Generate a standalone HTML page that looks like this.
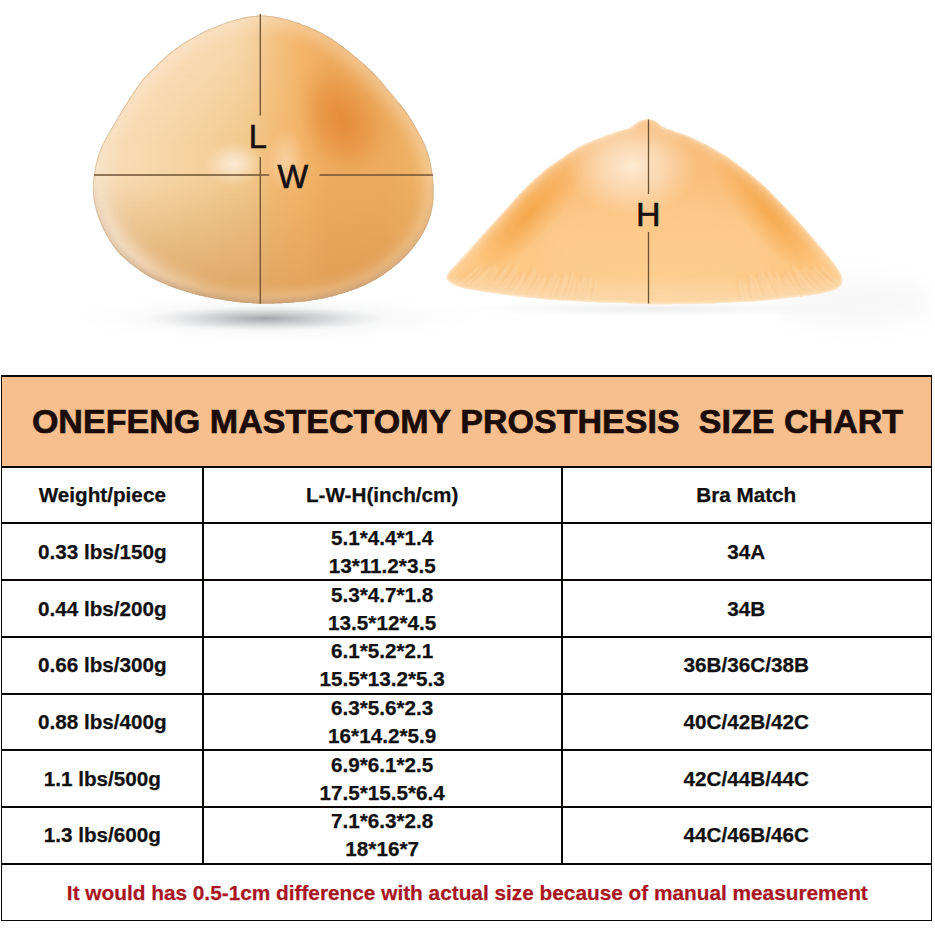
<!DOCTYPE html>
<html><head><meta charset="utf-8"><style>
html,body{margin:0;padding:0;background:#fff;width:935px;height:935px;overflow:hidden;}
body{position:relative;font-family:"Liberation Sans",sans-serif;}
.h{position:absolute;background:#0a0606;height:2px;}
.v{position:absolute;background:#0a0606;width:2px;}
.t{position:absolute;text-align:center;font-weight:bold;font-size:20.7px;line-height:28px;color:#111;white-space:pre;-webkit-text-stroke:0.25px #111;}
#photo{position:absolute;left:0;top:0;}
</style></head><body>
<svg id="photo" width="935" height="375" viewBox="0 0 935 375">
<defs>
<filter id="b07" x="-5%" y="-5%" width="110%" height="110%"><feGaussianBlur stdDeviation="0.7"/></filter>
<filter id="b05" x="-10%" y="-10%" width="120%" height="120%"><feGaussianBlur stdDeviation="0.5"/></filter>
<filter id="b1" x="-10%" y="-10%" width="120%" height="120%"><feGaussianBlur stdDeviation="1"/></filter>
<filter id="b2" x="-20%" y="-20%" width="140%" height="140%"><feGaussianBlur stdDeviation="2"/></filter>
<filter id="b4" x="-20%" y="-20%" width="140%" height="140%"><feGaussianBlur stdDeviation="4"/></filter>
<filter id="b8" x="-50%" y="-50%" width="200%" height="200%"><feGaussianBlur stdDeviation="8"/></filter>
<filter id="b14" x="-50%" y="-50%" width="200%" height="200%"><feGaussianBlur stdDeviation="14"/></filter>
<clipPath id="cl"><path d="M260.5,15.5 C261.8,15.5 263.0,15.5 264.3,15.6 C265.5,15.6 266.7,15.7 268.0,15.9 C269.2,16.0 270.5,16.2 271.7,16.3 C273.0,16.5 274.2,16.7 275.4,16.9 C276.7,17.1 277.9,17.4 279.2,17.6 C280.4,17.9 281.6,18.1 282.8,18.4 C284.1,18.7 285.3,19.0 286.5,19.3 C287.7,19.6 288.9,20.0 290.1,20.3 C291.3,20.7 292.5,21.0 293.7,21.4 C294.9,21.8 296.1,22.2 297.3,22.6 C298.5,23.0 299.7,23.4 300.9,23.9 C302.0,24.3 303.2,24.8 304.4,25.2 C305.6,25.7 306.7,26.2 307.9,26.6 C309.1,27.1 310.2,27.6 311.4,28.1 C312.5,28.6 313.7,29.1 314.8,29.6 C316.0,30.1 317.1,30.7 318.2,31.2 C319.4,31.7 320.5,32.3 321.6,32.9 C322.7,33.5 323.8,34.1 324.9,34.7 C326.0,35.3 327.1,35.9 328.2,36.6 C329.2,37.3 330.3,37.9 331.4,38.6 C332.4,39.3 333.5,40.0 334.5,40.7 C335.5,41.4 336.6,42.1 337.6,42.8 C338.6,43.6 339.6,44.3 340.6,45.1 C341.6,45.8 342.7,46.6 343.7,47.3 C344.7,48.1 345.6,48.9 346.6,49.7 C347.6,50.4 348.6,51.2 349.6,52.0 C350.6,52.8 351.6,53.6 352.5,54.4 C353.5,55.2 354.5,56.0 355.4,56.8 C356.4,57.6 357.4,58.4 358.3,59.2 C359.3,60.0 360.3,60.8 361.2,61.7 C362.2,62.5 363.1,63.3 364.0,64.1 C365.0,65.0 365.9,65.8 366.9,66.7 C367.8,67.5 368.7,68.3 369.6,69.2 C370.5,70.1 371.5,70.9 372.3,71.8 C373.2,72.7 374.1,73.6 375.0,74.5 C375.9,75.4 376.7,76.3 377.5,77.3 C378.4,78.2 379.2,79.2 380.0,80.1 C380.9,81.1 381.7,82.0 382.5,83.0 C383.3,84.0 384.1,84.9 384.9,85.9 C385.7,86.9 386.5,87.8 387.3,88.8 C388.1,89.8 388.9,90.8 389.7,91.7 C390.5,92.7 391.3,93.7 392.1,94.6 C392.9,95.6 393.7,96.6 394.5,97.5 C395.3,98.5 396.2,99.4 397.0,100.4 C397.8,101.3 398.6,102.3 399.4,103.2 C400.2,104.2 401.1,105.2 401.8,106.1 C402.6,107.1 403.4,108.1 404.2,109.1 C404.9,110.1 405.7,111.1 406.4,112.2 C407.1,113.2 407.8,114.2 408.5,115.3 C409.2,116.3 409.8,117.4 410.5,118.5 C411.2,119.5 411.8,120.6 412.5,121.7 C413.1,122.8 413.8,123.8 414.4,124.9 C415.1,126.0 415.7,127.1 416.3,128.2 C417.0,129.3 417.6,130.3 418.2,131.4 C418.8,132.5 419.5,133.6 420.0,134.7 C420.6,135.9 421.2,137.0 421.8,138.1 C422.4,139.2 422.9,140.3 423.4,141.5 C424.0,142.6 424.5,143.8 425.0,144.9 C425.4,146.1 425.9,147.2 426.3,148.4 C426.8,149.6 427.2,150.8 427.6,152.0 C428.0,153.2 428.4,154.4 428.7,155.6 C429.1,156.8 429.4,158.0 429.7,159.2 C430.0,160.4 430.3,161.6 430.6,162.9 C430.8,164.1 431.1,165.3 431.3,166.6 C431.5,167.8 431.7,169.0 431.9,170.3 C432.1,171.5 432.3,172.8 432.4,174.0 C432.6,175.3 432.8,176.5 432.9,177.8 C433.0,179.0 433.1,180.3 433.2,181.5 C433.3,182.8 433.4,184.0 433.5,185.3 C433.6,186.5 433.6,187.8 433.6,189.1 C433.7,190.3 433.7,191.6 433.7,192.8 C433.7,194.1 433.7,195.3 433.6,196.6 C433.5,197.8 433.5,199.1 433.4,200.3 C433.2,201.6 433.1,202.8 432.9,204.1 C432.8,205.3 432.6,206.6 432.3,207.8 C432.1,209.0 431.9,210.2 431.6,211.5 C431.3,212.7 431.0,213.9 430.6,215.1 C430.3,216.3 429.9,217.5 429.5,218.7 C429.1,219.9 428.7,221.1 428.2,222.2 C427.8,223.4 427.3,224.6 426.8,225.7 C426.3,226.8 425.7,228.0 425.2,229.1 C424.6,230.2 424.0,231.3 423.4,232.4 C422.8,233.5 422.1,234.6 421.5,235.7 C420.8,236.8 420.2,237.8 419.5,238.9 C418.8,239.9 418.1,241.0 417.4,242.0 C416.6,243.0 415.9,244.0 415.1,245.0 C414.4,246.0 413.6,247.0 412.8,248.0 C412.1,249.0 411.3,250.0 410.5,250.9 C409.6,251.9 408.8,252.8 408.0,253.8 C407.1,254.7 406.3,255.6 405.4,256.5 C404.5,257.4 403.6,258.3 402.7,259.2 C401.8,260.0 400.9,260.9 399.9,261.7 C399.0,262.5 398.0,263.3 397.1,264.1 C396.1,264.9 395.1,265.7 394.1,266.5 C393.2,267.3 392.2,268.1 391.2,268.9 C390.2,269.6 389.2,270.4 388.2,271.1 C387.2,271.9 386.1,272.6 385.1,273.3 C384.1,274.1 383.1,274.8 382.0,275.5 C381.0,276.2 379.9,276.9 378.8,277.5 C377.8,278.2 376.7,278.8 375.6,279.5 C374.5,280.1 373.4,280.7 372.3,281.3 C371.2,281.9 370.1,282.5 369.0,283.1 C367.9,283.7 366.8,284.2 365.6,284.7 C364.5,285.3 363.3,285.8 362.2,286.3 C361.0,286.8 359.9,287.3 358.7,287.7 C357.5,288.2 356.4,288.7 355.2,289.1 C354.0,289.5 352.8,289.9 351.6,290.4 C350.4,290.8 349.2,291.2 348.1,291.6 C346.9,292.0 345.7,292.3 344.5,292.7 C343.3,293.1 342.1,293.5 340.8,293.8 C339.6,294.2 338.4,294.5 337.2,294.9 C336.0,295.2 334.8,295.6 333.6,295.9 C332.4,296.2 331.2,296.5 329.9,296.8 C328.7,297.1 327.5,297.4 326.3,297.7 C325.0,298.0 323.8,298.2 322.6,298.5 C321.3,298.7 320.1,299.0 318.9,299.2 C317.6,299.4 316.4,299.6 315.1,299.8 C313.9,300.0 312.7,300.2 311.4,300.4 C310.2,300.6 308.9,300.8 307.7,300.9 C306.4,301.1 305.2,301.2 303.9,301.4 C302.7,301.5 301.4,301.6 300.2,301.8 C298.9,301.9 297.7,302.0 296.4,302.1 C295.2,302.2 293.9,302.4 292.7,302.5 C291.4,302.6 290.2,302.6 288.9,302.7 C287.6,302.8 286.4,302.9 285.1,303.0 C283.9,303.0 282.6,303.1 281.4,303.2 C280.1,303.2 278.8,303.3 277.6,303.3 C276.3,303.4 275.1,303.4 273.8,303.4 C272.6,303.5 271.3,303.5 270.0,303.5 C268.8,303.6 267.5,303.6 266.3,303.6 C265.0,303.6 263.7,303.6 262.5,303.6 C261.2,303.5 260.0,303.5 258.7,303.5 C257.5,303.5 256.2,303.4 254.9,303.3 C253.7,303.3 252.4,303.2 251.2,303.1 C249.9,303.1 248.7,303.0 247.4,302.9 C246.2,302.8 244.9,302.7 243.7,302.6 C242.4,302.4 241.1,302.3 239.9,302.2 C238.6,302.0 237.4,301.9 236.1,301.7 C234.9,301.6 233.7,301.4 232.4,301.2 C231.2,301.1 229.9,300.9 228.7,300.7 C227.4,300.6 226.2,300.4 224.9,300.2 C223.7,300.0 222.4,299.8 221.2,299.6 C220.0,299.4 218.7,299.2 217.5,299.0 C216.2,298.8 215.0,298.6 213.8,298.3 C212.5,298.1 211.3,297.9 210.0,297.6 C208.8,297.4 207.6,297.1 206.4,296.9 C205.1,296.6 203.9,296.3 202.7,296.0 C201.4,295.8 200.2,295.5 199.0,295.2 C197.8,294.8 196.6,294.5 195.3,294.2 C194.1,293.9 192.9,293.6 191.7,293.2 C190.5,292.9 189.3,292.5 188.1,292.2 C186.9,291.8 185.7,291.5 184.5,291.1 C183.3,290.7 182.1,290.4 180.9,290.0 C179.7,289.6 178.5,289.2 177.3,288.8 C176.1,288.4 174.9,288.0 173.7,287.5 C172.5,287.1 171.4,286.7 170.2,286.2 C169.0,285.8 167.8,285.3 166.7,284.8 C165.5,284.3 164.4,283.8 163.2,283.3 C162.1,282.8 160.9,282.3 159.8,281.8 C158.6,281.3 157.5,280.7 156.4,280.2 C155.2,279.6 154.1,279.1 153.0,278.5 C151.9,277.9 150.8,277.3 149.7,276.7 C148.6,276.1 147.5,275.5 146.4,274.8 C145.4,274.2 144.3,273.5 143.2,272.8 C142.2,272.1 141.2,271.4 140.1,270.7 C139.1,269.9 138.1,269.2 137.1,268.5 C136.1,267.7 135.1,267.0 134.1,266.2 C133.1,265.4 132.1,264.6 131.1,263.9 C130.1,263.1 129.1,262.3 128.1,261.5 C127.2,260.7 126.2,259.9 125.2,259.1 C124.3,258.3 123.3,257.5 122.4,256.6 C121.5,255.8 120.6,254.9 119.7,254.0 C118.9,253.1 118.0,252.2 117.2,251.2 C116.4,250.3 115.6,249.3 114.9,248.3 C114.1,247.3 113.4,246.3 112.7,245.2 C112.0,244.2 111.3,243.1 110.7,242.1 C110.0,241.0 109.4,239.9 108.7,238.8 C108.1,237.8 107.5,236.7 106.9,235.6 C106.2,234.5 105.6,233.4 105.1,232.3 C104.5,231.2 103.9,230.0 103.3,228.9 C102.8,227.8 102.2,226.7 101.7,225.5 C101.2,224.4 100.7,223.2 100.2,222.1 C99.8,220.9 99.3,219.7 98.9,218.5 C98.4,217.4 98.0,216.2 97.6,215.0 C97.2,213.8 96.8,212.6 96.5,211.4 C96.1,210.2 95.8,209.0 95.5,207.8 C95.2,206.6 94.9,205.3 94.6,204.1 C94.3,202.9 94.1,201.7 93.9,200.4 C93.7,199.2 93.5,197.9 93.3,196.7 C93.2,195.5 93.1,194.2 93.0,193.0 C92.9,191.7 92.9,190.5 92.9,189.2 C92.9,188.0 92.9,186.7 93.0,185.5 C93.0,184.2 93.1,183.0 93.2,181.7 C93.3,180.5 93.5,179.2 93.6,178.0 C93.8,176.7 93.9,175.5 94.1,174.2 C94.3,173.0 94.5,171.7 94.7,170.5 C94.9,169.3 95.1,168.0 95.3,166.8 C95.6,165.6 95.9,164.3 96.1,163.1 C96.4,161.9 96.7,160.7 97.1,159.4 C97.4,158.2 97.7,157.0 98.1,155.8 C98.5,154.6 98.9,153.4 99.3,152.3 C99.7,151.1 100.2,149.9 100.6,148.7 C101.1,147.6 101.6,146.4 102.1,145.3 C102.7,144.2 103.2,143.0 103.8,141.9 C104.4,140.8 105.0,139.7 105.6,138.6 C106.2,137.5 106.8,136.4 107.4,135.3 C108.0,134.2 108.6,133.1 109.3,132.0 C109.9,130.9 110.5,129.9 111.2,128.8 C111.8,127.7 112.4,126.6 113.1,125.5 C113.7,124.4 114.3,123.3 115.0,122.2 C115.6,121.2 116.3,120.1 116.9,119.0 C117.5,117.9 118.2,116.8 118.8,115.7 C119.5,114.7 120.1,113.6 120.8,112.5 C121.4,111.4 122.1,110.4 122.7,109.3 C123.4,108.2 124.0,107.1 124.7,106.1 C125.3,105.0 126.0,103.9 126.7,102.9 C127.4,101.8 128.1,100.7 128.7,99.7 C129.4,98.6 130.1,97.6 130.8,96.5 C131.5,95.5 132.2,94.5 132.9,93.4 C133.6,92.4 134.3,91.3 135.0,90.3 C135.7,89.2 136.4,88.2 137.1,87.1 C137.8,86.1 138.5,85.0 139.2,84.0 C139.9,83.0 140.7,82.0 141.4,81.0 C142.2,80.0 143.0,79.1 143.8,78.1 C144.6,77.2 145.5,76.3 146.4,75.4 C147.2,74.5 148.1,73.6 149.0,72.7 C149.9,71.8 150.8,70.9 151.7,70.0 C152.6,69.1 153.5,68.3 154.4,67.4 C155.3,66.5 156.2,65.6 157.1,64.7 C158.0,63.9 158.9,63.0 159.8,62.1 C160.7,61.3 161.6,60.4 162.5,59.5 C163.5,58.7 164.4,57.8 165.3,57.0 C166.3,56.2 167.2,55.3 168.2,54.5 C169.1,53.7 170.1,52.9 171.1,52.1 C172.1,51.3 173.1,50.6 174.1,49.8 C175.1,49.0 176.1,48.3 177.1,47.6 C178.1,46.8 179.1,46.1 180.2,45.4 C181.2,44.7 182.2,44.0 183.3,43.3 C184.3,42.6 185.4,41.9 186.5,41.3 C187.5,40.6 188.6,40.0 189.7,39.3 C190.8,38.7 191.9,38.1 193.0,37.5 C194.1,36.9 195.2,36.3 196.3,35.7 C197.4,35.1 198.5,34.5 199.6,33.9 C200.8,33.4 201.9,32.8 203.0,32.3 C204.2,31.7 205.3,31.2 206.4,30.6 C207.6,30.1 208.7,29.6 209.9,29.1 C211.0,28.6 212.2,28.1 213.4,27.6 C214.5,27.1 215.7,26.6 216.8,26.2 C218.0,25.7 219.2,25.2 220.3,24.8 C221.5,24.3 222.7,23.9 223.9,23.4 C225.0,23.0 226.2,22.6 227.4,22.1 C228.6,21.7 229.8,21.3 231.0,21.0 C232.2,20.6 233.4,20.2 234.6,19.9 C235.8,19.6 237.0,19.2 238.3,18.9 C239.5,18.6 240.7,18.3 241.9,18.0 C243.1,17.8 244.4,17.5 245.6,17.3 C246.8,17.0 248.1,16.8 249.3,16.6 C250.6,16.4 251.8,16.2 253.0,16.1 C254.3,15.9 255.5,15.8 256.8,15.7 C258.0,15.6 259.3,15.5 260.5,15.5Z"/></clipPath>
<clipPath id="cr"><path d="M446.8,277.5 C446.7,276.8 446.9,276.1 447.1,275.4 C447.3,274.7 447.7,274.0 448.1,273.4 C448.4,272.7 448.9,272.1 449.3,271.5 C449.8,270.9 450.3,270.3 450.9,269.7 C451.4,269.2 452.0,268.7 452.5,268.1 C453.1,267.6 453.6,267.0 454.2,266.5 C454.7,265.9 455.3,265.4 455.8,264.8 C456.3,264.3 456.9,263.7 457.4,263.1 C457.9,262.6 458.4,262.0 459.0,261.4 C459.5,260.8 460.0,260.3 460.5,259.7 C461.1,259.1 461.6,258.6 462.1,258.0 C462.6,257.4 463.2,256.9 463.7,256.3 C464.2,255.7 464.7,255.1 465.3,254.6 C465.8,254.0 466.3,253.4 466.8,252.8 C467.3,252.2 467.8,251.7 468.4,251.1 C468.9,250.5 469.4,249.9 469.9,249.4 C470.4,248.8 470.9,248.2 471.5,247.6 C472.0,247.0 472.5,246.5 473.0,245.9 C473.5,245.3 474.0,244.7 474.5,244.1 C475.1,243.6 475.6,243.0 476.1,242.4 C476.6,241.8 477.1,241.2 477.6,240.7 C478.1,240.1 478.6,239.5 479.2,238.9 C479.7,238.3 480.2,237.7 480.7,237.2 C481.2,236.6 481.7,236.0 482.2,235.4 C482.7,234.8 483.3,234.3 483.8,233.7 C484.3,233.1 484.8,232.5 485.3,231.9 C485.8,231.3 486.3,230.8 486.9,230.2 C487.4,229.6 487.9,229.0 488.4,228.5 C488.9,227.9 489.5,227.3 490.0,226.8 C490.5,226.2 491.1,225.6 491.6,225.1 C492.1,224.5 492.6,223.9 493.2,223.4 C493.7,222.8 494.2,222.2 494.7,221.6 C495.3,221.1 495.8,220.5 496.3,219.9 C496.9,219.4 497.4,218.8 497.9,218.2 C498.4,217.7 499.0,217.1 499.5,216.5 C500.0,215.9 500.5,215.4 501.0,214.8 C501.6,214.2 502.1,213.6 502.6,213.1 C503.1,212.5 503.6,211.9 504.1,211.3 C504.7,210.7 505.2,210.2 505.7,209.6 C506.2,209.0 506.7,208.4 507.2,207.9 C507.8,207.3 508.3,206.7 508.8,206.1 C509.3,205.5 509.8,205.0 510.3,204.4 C510.9,203.8 511.4,203.2 511.9,202.7 C512.4,202.1 512.9,201.5 513.5,200.9 C514.0,200.4 514.5,199.8 515.0,199.2 C515.5,198.6 516.1,198.1 516.6,197.5 C517.1,196.9 517.6,196.4 518.2,195.8 C518.7,195.2 519.2,194.7 519.8,194.1 C520.3,193.5 520.8,193.0 521.4,192.4 C521.9,191.8 522.4,191.3 523.0,190.7 C523.5,190.2 524.0,189.6 524.6,189.0 C525.1,188.5 525.6,187.9 526.2,187.4 C526.7,186.8 527.3,186.3 527.9,185.7 C528.4,185.2 529.0,184.7 529.5,184.1 C530.1,183.6 530.7,183.1 531.2,182.6 C531.8,182.0 532.4,181.5 532.9,181.0 C533.5,180.4 534.1,179.9 534.6,179.4 C535.2,178.8 535.8,178.3 536.3,177.8 C536.9,177.3 537.5,176.8 538.1,176.2 C538.7,175.7 539.2,175.2 539.8,174.7 C540.4,174.2 541.0,173.7 541.6,173.2 C542.1,172.7 542.7,172.1 543.3,171.6 C543.9,171.1 544.5,170.6 545.1,170.1 C545.6,169.6 546.2,169.1 546.8,168.6 C547.4,168.1 548.0,167.6 548.7,167.2 C549.3,166.7 549.9,166.3 550.5,165.8 C551.2,165.4 551.8,164.9 552.5,164.5 C553.1,164.1 553.8,163.7 554.4,163.2 C555.1,162.8 555.7,162.4 556.3,161.9 C557.0,161.5 557.6,161.1 558.3,160.6 C558.9,160.2 559.6,159.8 560.2,159.3 C560.8,158.9 561.5,158.5 562.1,158.0 C562.8,157.6 563.4,157.1 564.0,156.7 C564.7,156.2 565.3,155.8 565.9,155.3 C566.6,154.9 567.2,154.5 567.8,154.0 C568.5,153.6 569.1,153.1 569.8,152.7 C570.4,152.3 571.1,151.9 571.7,151.5 C572.4,151.1 573.0,150.7 573.7,150.2 C574.4,149.8 575.0,149.4 575.7,149.0 C576.4,148.6 577.0,148.2 577.7,147.8 C578.3,147.4 579.0,147.0 579.7,146.7 C580.4,146.3 581.0,145.9 581.7,145.6 C582.4,145.2 583.1,144.9 583.8,144.6 C584.5,144.2 585.2,143.9 586.0,143.6 C586.7,143.3 587.4,143.0 588.1,142.7 C588.8,142.4 589.5,142.0 590.2,141.7 C590.9,141.4 591.6,141.1 592.4,140.8 C593.1,140.5 593.8,140.3 594.5,140.0 C595.2,139.7 596.0,139.4 596.7,139.2 C597.4,138.9 598.2,138.7 598.9,138.4 C599.6,138.1 600.3,137.9 601.1,137.6 C601.8,137.3 602.5,137.1 603.3,136.8 C604.0,136.5 604.7,136.3 605.4,136.0 C606.2,135.7 606.9,135.5 607.6,135.2 C608.3,134.9 609.1,134.6 609.8,134.4 C610.5,134.1 611.2,133.8 612.0,133.5 C612.7,133.3 613.4,133.0 614.1,132.7 C614.9,132.5 615.6,132.2 616.3,132.0 C617.1,131.7 617.8,131.5 618.6,131.3 C619.3,131.1 620.1,130.9 620.8,130.7 C621.6,130.5 622.3,130.3 623.1,130.1 C623.8,129.9 624.6,129.7 625.3,129.4 C626.0,129.2 626.8,129.0 627.5,128.7 C628.2,128.5 629.0,128.2 629.7,127.9 C630.3,127.6 631.0,127.2 631.7,126.8 C632.3,126.4 632.9,125.9 633.5,125.5 C634.1,125.0 634.7,124.5 635.3,124.0 C635.9,123.5 636.5,123.0 637.1,122.6 C637.8,122.1 638.4,121.7 639.1,121.4 C639.8,121.0 640.5,120.7 641.2,120.5 C641.9,120.2 642.7,120.0 643.4,119.9 C644.2,119.7 645.0,119.6 645.7,119.5 C646.5,119.5 647.3,119.4 648.0,119.5 C648.8,119.5 649.6,119.5 650.3,119.6 C651.1,119.8 651.8,119.9 652.6,120.1 C653.3,120.3 654.0,120.6 654.7,120.9 C655.4,121.2 656.1,121.6 656.7,122.0 C657.3,122.5 657.9,122.9 658.5,123.4 C659.1,123.9 659.7,124.4 660.3,124.9 C660.9,125.4 661.5,125.9 662.2,126.3 C662.8,126.8 663.4,127.2 664.1,127.5 C664.8,127.9 665.5,128.1 666.2,128.4 C666.9,128.7 667.7,128.9 668.4,129.2 C669.1,129.4 669.9,129.7 670.6,129.9 C671.4,130.1 672.1,130.4 672.8,130.6 C673.6,130.9 674.3,131.2 675.0,131.4 C675.8,131.7 676.5,131.9 677.2,132.2 C678.0,132.4 678.7,132.7 679.4,132.9 C680.2,133.2 680.9,133.4 681.6,133.7 C682.4,133.9 683.1,134.2 683.8,134.4 C684.5,134.7 685.3,134.9 686.0,135.2 C686.7,135.5 687.4,135.8 688.1,136.1 C688.9,136.4 689.6,136.7 690.3,137.1 C691.0,137.4 691.7,137.7 692.4,138.1 C693.1,138.4 693.8,138.7 694.5,139.1 C695.2,139.4 695.9,139.7 696.6,140.1 C697.3,140.4 698.0,140.7 698.7,141.1 C699.4,141.4 700.1,141.7 700.8,142.1 C701.5,142.4 702.2,142.7 702.9,143.1 C703.6,143.4 704.3,143.7 705.0,144.1 C705.7,144.4 706.4,144.7 707.1,145.1 C707.7,145.4 708.4,145.8 709.1,146.2 C709.8,146.5 710.5,146.9 711.2,147.3 C711.8,147.7 712.5,148.1 713.2,148.5 C713.8,148.8 714.5,149.2 715.2,149.6 C715.8,150.0 716.5,150.4 717.2,150.8 C717.8,151.2 718.5,151.6 719.2,152.0 C719.8,152.4 720.5,152.8 721.2,153.2 C721.8,153.6 722.5,154.0 723.2,154.4 C723.8,154.8 724.5,155.1 725.2,155.5 C725.8,155.9 726.5,156.3 727.2,156.8 C727.8,157.2 728.5,157.6 729.1,158.0 C729.7,158.5 730.4,158.9 731.0,159.4 C731.6,159.8 732.2,160.3 732.9,160.8 C733.5,161.2 734.1,161.7 734.7,162.2 C735.3,162.6 736.0,163.1 736.6,163.6 C737.2,164.0 737.8,164.5 738.4,165.0 C739.1,165.4 739.7,165.9 740.3,166.4 C740.9,166.8 741.5,167.3 742.2,167.8 C742.8,168.2 743.4,168.7 744.0,169.2 C744.6,169.6 745.3,170.1 745.9,170.6 C746.5,171.0 747.1,171.5 747.7,172.0 C748.3,172.5 748.9,173.0 749.5,173.5 C750.1,174.0 750.7,174.5 751.3,175.0 C751.9,175.5 752.4,176.0 753.0,176.5 C753.6,177.0 754.2,177.5 754.8,178.0 C755.4,178.5 756.0,179.0 756.6,179.5 C757.1,180.0 757.7,180.5 758.3,181.0 C758.9,181.5 759.5,182.1 760.1,182.6 C760.7,183.1 761.3,183.6 761.9,184.1 C762.4,184.6 763.0,185.1 763.6,185.6 C764.2,186.1 764.8,186.6 765.4,187.1 C765.9,187.6 766.5,188.2 767.1,188.7 C767.6,189.2 768.2,189.8 768.7,190.3 C769.3,190.9 769.8,191.4 770.4,192.0 C770.9,192.5 771.4,193.1 772.0,193.7 C772.5,194.2 773.1,194.8 773.6,195.3 C774.1,195.9 774.7,196.4 775.2,197.0 C775.7,197.6 776.3,198.1 776.8,198.7 C777.4,199.2 777.9,199.8 778.4,200.4 C779.0,200.9 779.5,201.5 780.1,202.0 C780.6,202.6 781.1,203.1 781.7,203.7 C782.2,204.3 782.7,204.8 783.3,205.4 C783.8,205.9 784.4,206.5 784.9,207.1 C785.4,207.6 786.0,208.2 786.5,208.7 C787.0,209.3 787.6,209.9 788.1,210.4 C788.6,211.0 789.1,211.6 789.7,212.2 C790.2,212.7 790.7,213.3 791.2,213.9 C791.8,214.4 792.3,215.0 792.8,215.6 C793.3,216.1 793.9,216.7 794.4,217.3 C794.9,217.9 795.4,218.4 796.0,219.0 C796.5,219.6 797.0,220.1 797.5,220.7 C798.0,221.3 798.6,221.9 799.1,222.4 C799.6,223.0 800.1,223.6 800.7,224.1 C801.2,224.7 801.7,225.3 802.2,225.9 C802.8,226.4 803.3,227.0 803.8,227.6 C804.3,228.1 804.9,228.7 805.4,229.3 C805.9,229.9 806.4,230.5 806.9,231.0 C807.4,231.6 807.9,232.2 808.4,232.8 C808.9,233.4 809.4,234.0 809.9,234.6 C810.5,235.2 811.0,235.7 811.5,236.3 C812.0,236.9 812.5,237.5 813.0,238.1 C813.5,238.7 814.0,239.3 814.5,239.9 C815.0,240.5 815.5,241.0 816.0,241.6 C816.5,242.2 817.0,242.8 817.5,243.4 C818.0,244.0 818.5,244.6 819.0,245.2 C819.5,245.7 820.0,246.3 820.5,246.9 C821.1,247.5 821.6,248.1 822.1,248.7 C822.6,249.3 823.1,249.9 823.6,250.5 C824.1,251.1 824.6,251.6 825.1,252.2 C825.6,252.8 826.1,253.4 826.5,254.0 C827.0,254.6 827.5,255.2 828.0,255.8 C828.5,256.4 829.0,257.1 829.5,257.7 C830.0,258.3 830.4,258.9 830.9,259.5 C831.4,260.1 831.9,260.7 832.4,261.3 C832.9,261.9 833.4,262.5 833.8,263.1 C834.3,263.7 834.8,264.3 835.2,265.0 C835.7,265.6 836.1,266.2 836.5,266.9 C837.0,267.5 837.4,268.2 837.8,268.8 C838.2,269.5 838.6,270.1 839.0,270.8 C839.4,271.5 839.8,272.1 840.2,272.8 C840.5,273.5 840.9,274.2 841.2,274.9 C841.5,275.6 841.7,276.3 842.0,277.1 C842.2,277.8 842.4,278.5 842.4,279.3 C842.5,280.0 842.5,280.7 842.4,281.5 C842.3,282.2 842.1,283.0 841.9,283.6 C841.6,284.3 841.3,285.0 840.8,285.6 C840.4,286.1 839.9,286.7 839.3,287.1 C838.7,287.6 838.1,288.1 837.4,288.5 C836.8,288.9 836.1,289.3 835.5,289.6 C834.8,290.0 834.0,290.2 833.3,290.5 C832.6,290.7 831.8,290.9 831.1,291.1 C830.3,291.3 829.6,291.5 828.8,291.7 C828.1,291.9 827.3,292.1 826.6,292.3 C825.8,292.5 825.1,292.7 824.3,292.9 C823.6,293.0 822.8,293.2 822.1,293.3 C821.3,293.5 820.5,293.6 819.8,293.7 C819.0,293.9 818.2,294.0 817.5,294.1 C816.7,294.2 815.9,294.3 815.2,294.5 C814.4,294.6 813.6,294.7 812.9,294.8 C812.1,294.9 811.3,295.0 810.6,295.2 C809.8,295.3 809.0,295.4 808.3,295.5 C807.5,295.6 806.7,295.7 806.0,295.8 C805.2,295.9 804.4,296.0 803.7,296.1 C802.9,296.2 802.1,296.3 801.4,296.4 C800.6,296.5 799.8,296.6 799.1,296.7 C798.3,296.8 797.5,296.9 796.8,297.0 C796.0,297.1 795.2,297.2 794.4,297.3 C793.7,297.4 792.9,297.5 792.1,297.6 C791.4,297.7 790.6,297.8 789.8,297.8 C789.1,297.9 788.3,298.0 787.5,298.1 C786.7,298.2 786.0,298.3 785.2,298.3 C784.4,298.4 783.7,298.5 782.9,298.6 C782.1,298.7 781.3,298.7 780.6,298.8 C779.8,298.9 779.0,299.0 778.3,299.1 C777.5,299.1 776.7,299.2 775.9,299.3 C775.2,299.4 774.4,299.5 773.6,299.5 C772.9,299.6 772.1,299.7 771.3,299.8 C770.5,299.9 769.8,299.9 769.0,300.0 C768.2,300.1 767.5,300.2 766.7,300.3 C765.9,300.3 765.1,300.4 764.4,300.5 C763.6,300.6 762.8,300.7 762.1,300.7 C761.3,300.8 760.5,300.9 759.7,301.0 C759.0,301.0 758.2,301.1 757.4,301.2 C756.7,301.2 755.9,301.3 755.1,301.3 C754.3,301.4 753.6,301.4 752.8,301.4 C752.0,301.5 751.2,301.5 750.5,301.5 C749.7,301.6 748.9,301.6 748.1,301.7 C747.4,301.7 746.6,301.7 745.8,301.8 C745.0,301.8 744.3,301.9 743.5,301.9 C742.7,301.9 741.9,302.0 741.2,302.0 C740.4,302.0 739.6,302.1 738.8,302.1 C738.1,302.2 737.3,302.2 736.5,302.2 C735.8,302.3 735.0,302.3 734.2,302.3 C733.4,302.4 732.7,302.4 731.9,302.5 C731.1,302.5 730.3,302.5 729.6,302.6 C728.8,302.6 728.0,302.6 727.2,302.7 C726.5,302.7 725.7,302.8 724.9,302.8 C724.1,302.8 723.4,302.9 722.6,302.9 C721.8,303.0 721.0,303.0 720.3,303.0 C719.5,303.1 718.7,303.1 717.9,303.1 C717.2,303.2 716.4,303.2 715.6,303.3 C714.8,303.3 714.1,303.3 713.3,303.4 C712.5,303.4 711.7,303.4 711.0,303.5 C710.2,303.5 709.4,303.5 708.6,303.5 C707.9,303.5 707.1,303.6 706.3,303.6 C705.5,303.6 704.8,303.6 704.0,303.6 C703.2,303.6 702.4,303.6 701.7,303.7 C700.9,303.7 700.1,303.7 699.3,303.7 C698.6,303.7 697.8,303.7 697.0,303.7 C696.2,303.7 695.5,303.8 694.7,303.8 C693.9,303.8 693.1,303.8 692.4,303.8 C691.6,303.8 690.8,303.8 690.0,303.8 C689.3,303.9 688.5,303.9 687.7,303.9 C686.9,303.9 686.2,303.9 685.4,303.9 C684.6,303.9 683.8,304.0 683.1,304.0 C682.3,304.0 681.5,304.0 680.7,304.0 C680.0,304.0 679.2,304.0 678.4,304.0 C677.6,304.1 676.9,304.1 676.1,304.1 C675.3,304.1 674.5,304.1 673.8,304.1 C673.0,304.1 672.2,304.2 671.4,304.2 C670.7,304.2 669.9,304.2 669.1,304.2 C668.3,304.2 667.6,304.2 666.8,304.2 C666.0,304.3 665.2,304.3 664.5,304.3 C663.7,304.3 662.9,304.3 662.1,304.3 C661.4,304.3 660.6,304.3 659.8,304.3 C659.0,304.3 658.3,304.3 657.5,304.3 C656.7,304.3 655.9,304.3 655.2,304.2 C654.4,304.2 653.6,304.2 652.8,304.2 C652.1,304.2 651.3,304.2 650.5,304.2 C649.7,304.2 649.0,304.2 648.2,304.2 C647.4,304.1 646.6,304.1 645.9,304.1 C645.1,304.1 644.3,304.0 643.5,304.0 C642.8,303.9 642.0,303.9 641.2,303.9 C640.4,303.8 639.7,303.8 638.9,303.8 C638.1,303.7 637.3,303.7 636.6,303.7 C635.8,303.6 635.0,303.6 634.2,303.5 C633.5,303.5 632.7,303.5 631.9,303.4 C631.1,303.4 630.4,303.4 629.6,303.3 C628.8,303.3 628.0,303.2 627.3,303.2 C626.5,303.2 625.7,303.1 624.9,303.1 C624.2,303.1 623.4,303.0 622.6,303.0 C621.8,303.0 621.1,303.0 620.3,302.9 C619.5,302.9 618.7,302.9 618.0,302.9 C617.2,302.8 616.4,302.8 615.6,302.8 C614.9,302.8 614.1,302.8 613.3,302.7 C612.5,302.7 611.8,302.7 611.0,302.7 C610.2,302.7 609.4,302.6 608.7,302.6 C607.9,302.6 607.1,302.6 606.3,302.6 C605.6,302.5 604.8,302.5 604.0,302.5 C603.2,302.5 602.5,302.5 601.7,302.4 C600.9,302.4 600.1,302.4 599.4,302.4 C598.6,302.3 597.8,302.3 597.0,302.2 C596.3,302.2 595.5,302.2 594.7,302.1 C593.9,302.1 593.2,302.1 592.4,302.0 C591.6,302.0 590.9,301.9 590.1,301.9 C589.3,301.9 588.5,301.8 587.8,301.8 C587.0,301.7 586.2,301.7 585.4,301.7 C584.7,301.6 583.9,301.6 583.1,301.6 C582.3,301.5 581.6,301.5 580.8,301.4 C580.0,301.4 579.2,301.4 578.5,301.3 C577.7,301.3 576.9,301.2 576.1,301.2 C575.4,301.2 574.6,301.1 573.8,301.1 C573.0,301.0 572.3,301.0 571.5,301.0 C570.7,300.9 569.9,300.9 569.2,300.8 C568.4,300.8 567.6,300.8 566.8,300.7 C566.1,300.7 565.3,300.7 564.5,300.6 C563.7,300.6 563.0,300.5 562.2,300.5 C561.4,300.5 560.7,300.4 559.9,300.4 C559.1,300.3 558.3,300.3 557.6,300.3 C556.8,300.2 556.0,300.2 555.2,300.1 C554.5,300.1 553.7,300.0 552.9,300.0 C552.1,299.9 551.4,299.9 550.6,299.8 C549.8,299.7 549.1,299.6 548.3,299.6 C547.5,299.5 546.7,299.4 546.0,299.3 C545.2,299.2 544.4,299.2 543.7,299.1 C542.9,299.0 542.1,298.9 541.3,298.9 C540.6,298.8 539.8,298.7 539.0,298.6 C538.3,298.5 537.5,298.5 536.7,298.4 C535.9,298.3 535.2,298.2 534.4,298.1 C533.6,298.1 532.9,298.0 532.1,297.9 C531.3,297.8 530.5,297.8 529.8,297.7 C529.0,297.6 528.2,297.5 527.5,297.4 C526.7,297.3 525.9,297.2 525.1,297.1 C524.4,297.0 523.6,297.0 522.8,296.9 C522.1,296.8 521.3,296.7 520.5,296.6 C519.8,296.5 519.0,296.4 518.2,296.3 C517.4,296.2 516.7,296.1 515.9,296.0 C515.1,295.9 514.4,295.8 513.6,295.8 C512.8,295.7 512.1,295.6 511.3,295.5 C510.5,295.4 509.7,295.3 509.0,295.2 C508.2,295.1 507.4,295.0 506.7,294.9 C505.9,294.8 505.1,294.7 504.4,294.6 C503.6,294.5 502.8,294.4 502.1,294.3 C501.3,294.2 500.5,294.1 499.8,294.0 C499.0,293.9 498.2,293.8 497.5,293.6 C496.7,293.5 495.9,293.4 495.2,293.3 C494.4,293.2 493.6,293.1 492.9,293.0 C492.1,292.9 491.3,292.8 490.5,292.7 C489.8,292.5 489.0,292.4 488.2,292.3 C487.5,292.2 486.7,292.1 485.9,292.0 C485.2,291.9 484.4,291.8 483.6,291.7 C482.9,291.6 482.1,291.4 481.3,291.3 C480.6,291.2 479.8,291.1 479.0,290.9 C478.3,290.8 477.5,290.7 476.8,290.5 C476.0,290.4 475.2,290.3 474.5,290.1 C473.7,290.0 472.9,289.9 472.2,289.7 C471.4,289.6 470.6,289.5 469.9,289.3 C469.1,289.2 468.4,289.1 467.6,288.9 C466.8,288.8 466.1,288.6 465.3,288.5 C464.6,288.3 463.8,288.1 463.1,287.9 C462.3,287.7 461.6,287.5 460.8,287.2 C460.1,287.0 459.4,286.8 458.6,286.5 C457.9,286.3 457.2,286.0 456.4,285.7 C455.7,285.5 455.0,285.2 454.3,284.9 C453.6,284.6 452.9,284.3 452.2,283.9 C451.5,283.6 450.8,283.2 450.2,282.8 C449.6,282.3 449.1,281.8 448.6,281.3 C448.1,280.7 447.7,280.1 447.4,279.5 C447.1,278.8 446.8,278.1 446.8,277.5Z"/></clipPath>
<linearGradient id="gl" gradientUnits="userSpaceOnUse" x1="92" y1="0" x2="435" y2="0">
<stop offset="0" stop-color="#f8dfbe"/>
<stop offset="0.15" stop-color="#f7d9ad"/>
<stop offset="0.35" stop-color="#f4cf9a"/>
<stop offset="0.45" stop-color="#f2c98c"/>
<stop offset="0.495" stop-color="#f1c282"/>
<stop offset="0.525" stop-color="#f3bc76"/>
<stop offset="0.606" stop-color="#f4b56a"/>
<stop offset="0.694" stop-color="#eeac5f"/>
<stop offset="0.84" stop-color="#ecab5e"/>
<stop offset="1" stop-color="#efb466"/>
</linearGradient>
<linearGradient id="gtop" gradientUnits="userSpaceOnUse" x1="0" y1="14" x2="0" y2="304">
<stop offset="0" stop-color="#fdeedd" stop-opacity="0.45"/>
<stop offset="0.45" stop-color="#fdeedd" stop-opacity="0"/>
<stop offset="0.6" stop-color="#e8b470" stop-opacity="0"/>
<stop offset="1" stop-color="#e6b068" stop-opacity="0.55"/>
</linearGradient>
<linearGradient id="gbot" gradientUnits="userSpaceOnUse" x1="0" y1="170" x2="0" y2="300"><stop offset="0" stop-color="#d0904c" stop-opacity="0"/><stop offset="1" stop-color="#d0904c" stop-opacity="0.5"/></linearGradient>
<radialGradient id="spot"><stop offset="0" stop-color="#e58a38" stop-opacity="1"/><stop offset="0.45" stop-color="#e7923f" stop-opacity="0.65"/><stop offset="1" stop-color="#e99a48" stop-opacity="0"/></radialGradient>
<radialGradient id="hl"><stop offset="0" stop-color="#fff8f0" stop-opacity="1"/><stop offset="0.45" stop-color="#fcefe2" stop-opacity="0.7"/><stop offset="1" stop-color="#fbe6d2" stop-opacity="0"/></radialGradient>
<linearGradient id="gr" gradientUnits="userSpaceOnUse" x1="0" y1="120" x2="0" y2="304">
<stop offset="0" stop-color="#f8bb78"/><stop offset="0.45" stop-color="#fbc07c"/><stop offset="0.75" stop-color="#fdc883"/><stop offset="1" stop-color="#fdcd8c"/>
</linearGradient>
<radialGradient id="spotr"><stop offset="0" stop-color="#f5a648" stop-opacity="0.95"/><stop offset="1" stop-color="#f5a648" stop-opacity="0"/></radialGradient>
<radialGradient id="shadow"><stop offset="0" stop-color="#8c9096" stop-opacity="0.9"/><stop offset="0.55" stop-color="#aaaeb2" stop-opacity="0.45"/><stop offset="1" stop-color="#ccc" stop-opacity="0"/></radialGradient>
<linearGradient id="rimmask" gradientUnits="userSpaceOnUse" x1="0" y1="180" x2="0" y2="304">
<stop offset="0" stop-color="#fff" stop-opacity="0"/><stop offset="1" stop-color="#fff" stop-opacity="1"/>
</linearGradient>
<linearGradient id="hmask" gradientUnits="userSpaceOnUse" x1="235" y1="0" x2="300" y2="0"><stop offset="0" stop-color="#fff"/><stop offset="1" stop-color="#fff" stop-opacity="0"/></linearGradient>
<mask id="mh" maskUnits="userSpaceOnUse" x="0" y="0" width="935" height="375"><rect x="0" y="0" width="935" height="375" fill="url(#hmask)"/></mask>
<radialGradient id="llg" gradientUnits="userSpaceOnUse" cx="110" cy="250" r="110"><stop offset="0" stop-color="#fff"/><stop offset="1" stop-color="#fff" stop-opacity="0"/></radialGradient>
<mask id="mll" maskUnits="userSpaceOnUse" x="0" y="0" width="935" height="375"><rect x="0" y="0" width="935" height="375" fill="url(#llg)"/></mask>
<mask id="mrim" maskUnits="userSpaceOnUse" x="0" y="0" width="935" height="375"><rect x="0" y="0" width="935" height="375" fill="url(#rimmask)"/></mask>
</defs>
<ellipse cx="275" cy="318" rx="210" ry="24" fill="url(#shadow)" opacity="0.18"/>
<ellipse cx="265" cy="318.5" rx="120" ry="12.5" fill="url(#shadow)" opacity="0.85"/>
<ellipse cx="650" cy="309" rx="205" ry="9" fill="url(#shadow)" opacity="0.18"/>
<ellipse cx="855" cy="302" rx="80" ry="22" fill="#d8d8d8" opacity="0.22" filter="url(#b14)"/>
<g filter="url(#b07)"><g clip-path="url(#cl)">
<rect x="80" y="0" width="370" height="320" fill="url(#gl)"/>
<rect x="80" y="0" width="260" height="320" fill="url(#gtop)" mask="url(#mh)"/>
<rect x="80" y="0" width="370" height="320" fill="url(#gbot)"/>
<ellipse cx="0" cy="0" rx="40" ry="62" fill="url(#spot)" transform="translate(340,115) rotate(-25)"/>
<ellipse cx="345" cy="128" rx="52" ry="52" fill="url(#spot)" opacity="0.55"/>
<ellipse cx="234" cy="164" rx="30" ry="22" fill="url(#hl)" opacity="0.7"/>
<ellipse cx="286" cy="160" rx="20" ry="32" fill="url(#hl)" opacity="0.35"/>
<path d="M260.5,15.5 C261.8,15.5 263.0,15.5 264.3,15.6 C265.5,15.6 266.7,15.7 268.0,15.9 C269.2,16.0 270.5,16.2 271.7,16.3 C273.0,16.5 274.2,16.7 275.4,16.9 C276.7,17.1 277.9,17.4 279.2,17.6 C280.4,17.9 281.6,18.1 282.8,18.4 C284.1,18.7 285.3,19.0 286.5,19.3 C287.7,19.6 288.9,20.0 290.1,20.3 C291.3,20.7 292.5,21.0 293.7,21.4 C294.9,21.8 296.1,22.2 297.3,22.6 C298.5,23.0 299.7,23.4 300.9,23.9 C302.0,24.3 303.2,24.8 304.4,25.2 C305.6,25.7 306.7,26.2 307.9,26.6 C309.1,27.1 310.2,27.6 311.4,28.1 C312.5,28.6 313.7,29.1 314.8,29.6 C316.0,30.1 317.1,30.7 318.2,31.2 C319.4,31.7 320.5,32.3 321.6,32.9 C322.7,33.5 323.8,34.1 324.9,34.7 C326.0,35.3 327.1,35.9 328.2,36.6 C329.2,37.3 330.3,37.9 331.4,38.6 C332.4,39.3 333.5,40.0 334.5,40.7 C335.5,41.4 336.6,42.1 337.6,42.8 C338.6,43.6 339.6,44.3 340.6,45.1 C341.6,45.8 342.7,46.6 343.7,47.3 C344.7,48.1 345.6,48.9 346.6,49.7 C347.6,50.4 348.6,51.2 349.6,52.0 C350.6,52.8 351.6,53.6 352.5,54.4 C353.5,55.2 354.5,56.0 355.4,56.8 C356.4,57.6 357.4,58.4 358.3,59.2 C359.3,60.0 360.3,60.8 361.2,61.7 C362.2,62.5 363.1,63.3 364.0,64.1 C365.0,65.0 365.9,65.8 366.9,66.7 C367.8,67.5 368.7,68.3 369.6,69.2 C370.5,70.1 371.5,70.9 372.3,71.8 C373.2,72.7 374.1,73.6 375.0,74.5 C375.9,75.4 376.7,76.3 377.5,77.3 C378.4,78.2 379.2,79.2 380.0,80.1 C380.9,81.1 381.7,82.0 382.5,83.0 C383.3,84.0 384.1,84.9 384.9,85.9 C385.7,86.9 386.5,87.8 387.3,88.8 C388.1,89.8 388.9,90.8 389.7,91.7 C390.5,92.7 391.3,93.7 392.1,94.6 C392.9,95.6 393.7,96.6 394.5,97.5 C395.3,98.5 396.2,99.4 397.0,100.4 C397.8,101.3 398.6,102.3 399.4,103.2 C400.2,104.2 401.1,105.2 401.8,106.1 C402.6,107.1 403.4,108.1 404.2,109.1 C404.9,110.1 405.7,111.1 406.4,112.2 C407.1,113.2 407.8,114.2 408.5,115.3 C409.2,116.3 409.8,117.4 410.5,118.5 C411.2,119.5 411.8,120.6 412.5,121.7 C413.1,122.8 413.8,123.8 414.4,124.9 C415.1,126.0 415.7,127.1 416.3,128.2 C417.0,129.3 417.6,130.3 418.2,131.4 C418.8,132.5 419.5,133.6 420.0,134.7 C420.6,135.9 421.2,137.0 421.8,138.1 C422.4,139.2 422.9,140.3 423.4,141.5 C424.0,142.6 424.5,143.8 425.0,144.9 C425.4,146.1 425.9,147.2 426.3,148.4 C426.8,149.6 427.2,150.8 427.6,152.0 C428.0,153.2 428.4,154.4 428.7,155.6 C429.1,156.8 429.4,158.0 429.7,159.2 C430.0,160.4 430.3,161.6 430.6,162.9 C430.8,164.1 431.1,165.3 431.3,166.6 C431.5,167.8 431.7,169.0 431.9,170.3 C432.1,171.5 432.3,172.8 432.4,174.0 C432.6,175.3 432.8,176.5 432.9,177.8 C433.0,179.0 433.1,180.3 433.2,181.5 C433.3,182.8 433.4,184.0 433.5,185.3 C433.6,186.5 433.6,187.8 433.6,189.1 C433.7,190.3 433.7,191.6 433.7,192.8 C433.7,194.1 433.7,195.3 433.6,196.6 C433.5,197.8 433.5,199.1 433.4,200.3 C433.2,201.6 433.1,202.8 432.9,204.1 C432.8,205.3 432.6,206.6 432.3,207.8 C432.1,209.0 431.9,210.2 431.6,211.5 C431.3,212.7 431.0,213.9 430.6,215.1 C430.3,216.3 429.9,217.5 429.5,218.7 C429.1,219.9 428.7,221.1 428.2,222.2 C427.8,223.4 427.3,224.6 426.8,225.7 C426.3,226.8 425.7,228.0 425.2,229.1 C424.6,230.2 424.0,231.3 423.4,232.4 C422.8,233.5 422.1,234.6 421.5,235.7 C420.8,236.8 420.2,237.8 419.5,238.9 C418.8,239.9 418.1,241.0 417.4,242.0 C416.6,243.0 415.9,244.0 415.1,245.0 C414.4,246.0 413.6,247.0 412.8,248.0 C412.1,249.0 411.3,250.0 410.5,250.9 C409.6,251.9 408.8,252.8 408.0,253.8 C407.1,254.7 406.3,255.6 405.4,256.5 C404.5,257.4 403.6,258.3 402.7,259.2 C401.8,260.0 400.9,260.9 399.9,261.7 C399.0,262.5 398.0,263.3 397.1,264.1 C396.1,264.9 395.1,265.7 394.1,266.5 C393.2,267.3 392.2,268.1 391.2,268.9 C390.2,269.6 389.2,270.4 388.2,271.1 C387.2,271.9 386.1,272.6 385.1,273.3 C384.1,274.1 383.1,274.8 382.0,275.5 C381.0,276.2 379.9,276.9 378.8,277.5 C377.8,278.2 376.7,278.8 375.6,279.5 C374.5,280.1 373.4,280.7 372.3,281.3 C371.2,281.9 370.1,282.5 369.0,283.1 C367.9,283.7 366.8,284.2 365.6,284.7 C364.5,285.3 363.3,285.8 362.2,286.3 C361.0,286.8 359.9,287.3 358.7,287.7 C357.5,288.2 356.4,288.7 355.2,289.1 C354.0,289.5 352.8,289.9 351.6,290.4 C350.4,290.8 349.2,291.2 348.1,291.6 C346.9,292.0 345.7,292.3 344.5,292.7 C343.3,293.1 342.1,293.5 340.8,293.8 C339.6,294.2 338.4,294.5 337.2,294.9 C336.0,295.2 334.8,295.6 333.6,295.9 C332.4,296.2 331.2,296.5 329.9,296.8 C328.7,297.1 327.5,297.4 326.3,297.7 C325.0,298.0 323.8,298.2 322.6,298.5 C321.3,298.7 320.1,299.0 318.9,299.2 C317.6,299.4 316.4,299.6 315.1,299.8 C313.9,300.0 312.7,300.2 311.4,300.4 C310.2,300.6 308.9,300.8 307.7,300.9 C306.4,301.1 305.2,301.2 303.9,301.4 C302.7,301.5 301.4,301.6 300.2,301.8 C298.9,301.9 297.7,302.0 296.4,302.1 C295.2,302.2 293.9,302.4 292.7,302.5 C291.4,302.6 290.2,302.6 288.9,302.7 C287.6,302.8 286.4,302.9 285.1,303.0 C283.9,303.0 282.6,303.1 281.4,303.2 C280.1,303.2 278.8,303.3 277.6,303.3 C276.3,303.4 275.1,303.4 273.8,303.4 C272.6,303.5 271.3,303.5 270.0,303.5 C268.8,303.6 267.5,303.6 266.3,303.6 C265.0,303.6 263.7,303.6 262.5,303.6 C261.2,303.5 260.0,303.5 258.7,303.5 C257.5,303.5 256.2,303.4 254.9,303.3 C253.7,303.3 252.4,303.2 251.2,303.1 C249.9,303.1 248.7,303.0 247.4,302.9 C246.2,302.8 244.9,302.7 243.7,302.6 C242.4,302.4 241.1,302.3 239.9,302.2 C238.6,302.0 237.4,301.9 236.1,301.7 C234.9,301.6 233.7,301.4 232.4,301.2 C231.2,301.1 229.9,300.9 228.7,300.7 C227.4,300.6 226.2,300.4 224.9,300.2 C223.7,300.0 222.4,299.8 221.2,299.6 C220.0,299.4 218.7,299.2 217.5,299.0 C216.2,298.8 215.0,298.6 213.8,298.3 C212.5,298.1 211.3,297.9 210.0,297.6 C208.8,297.4 207.6,297.1 206.4,296.9 C205.1,296.6 203.9,296.3 202.7,296.0 C201.4,295.8 200.2,295.5 199.0,295.2 C197.8,294.8 196.6,294.5 195.3,294.2 C194.1,293.9 192.9,293.6 191.7,293.2 C190.5,292.9 189.3,292.5 188.1,292.2 C186.9,291.8 185.7,291.5 184.5,291.1 C183.3,290.7 182.1,290.4 180.9,290.0 C179.7,289.6 178.5,289.2 177.3,288.8 C176.1,288.4 174.9,288.0 173.7,287.5 C172.5,287.1 171.4,286.7 170.2,286.2 C169.0,285.8 167.8,285.3 166.7,284.8 C165.5,284.3 164.4,283.8 163.2,283.3 C162.1,282.8 160.9,282.3 159.8,281.8 C158.6,281.3 157.5,280.7 156.4,280.2 C155.2,279.6 154.1,279.1 153.0,278.5 C151.9,277.9 150.8,277.3 149.7,276.7 C148.6,276.1 147.5,275.5 146.4,274.8 C145.4,274.2 144.3,273.5 143.2,272.8 C142.2,272.1 141.2,271.4 140.1,270.7 C139.1,269.9 138.1,269.2 137.1,268.5 C136.1,267.7 135.1,267.0 134.1,266.2 C133.1,265.4 132.1,264.6 131.1,263.9 C130.1,263.1 129.1,262.3 128.1,261.5 C127.2,260.7 126.2,259.9 125.2,259.1 C124.3,258.3 123.3,257.5 122.4,256.6 C121.5,255.8 120.6,254.9 119.7,254.0 C118.9,253.1 118.0,252.2 117.2,251.2 C116.4,250.3 115.6,249.3 114.9,248.3 C114.1,247.3 113.4,246.3 112.7,245.2 C112.0,244.2 111.3,243.1 110.7,242.1 C110.0,241.0 109.4,239.9 108.7,238.8 C108.1,237.8 107.5,236.7 106.9,235.6 C106.2,234.5 105.6,233.4 105.1,232.3 C104.5,231.2 103.9,230.0 103.3,228.9 C102.8,227.8 102.2,226.7 101.7,225.5 C101.2,224.4 100.7,223.2 100.2,222.1 C99.8,220.9 99.3,219.7 98.9,218.5 C98.4,217.4 98.0,216.2 97.6,215.0 C97.2,213.8 96.8,212.6 96.5,211.4 C96.1,210.2 95.8,209.0 95.5,207.8 C95.2,206.6 94.9,205.3 94.6,204.1 C94.3,202.9 94.1,201.7 93.9,200.4 C93.7,199.2 93.5,197.9 93.3,196.7 C93.2,195.5 93.1,194.2 93.0,193.0 C92.9,191.7 92.9,190.5 92.9,189.2 C92.9,188.0 92.9,186.7 93.0,185.5 C93.0,184.2 93.1,183.0 93.2,181.7 C93.3,180.5 93.5,179.2 93.6,178.0 C93.8,176.7 93.9,175.5 94.1,174.2 C94.3,173.0 94.5,171.7 94.7,170.5 C94.9,169.3 95.1,168.0 95.3,166.8 C95.6,165.6 95.9,164.3 96.1,163.1 C96.4,161.9 96.7,160.7 97.1,159.4 C97.4,158.2 97.7,157.0 98.1,155.8 C98.5,154.6 98.9,153.4 99.3,152.3 C99.7,151.1 100.2,149.9 100.6,148.7 C101.1,147.6 101.6,146.4 102.1,145.3 C102.7,144.2 103.2,143.0 103.8,141.9 C104.4,140.8 105.0,139.7 105.6,138.6 C106.2,137.5 106.8,136.4 107.4,135.3 C108.0,134.2 108.6,133.1 109.3,132.0 C109.9,130.9 110.5,129.9 111.2,128.8 C111.8,127.7 112.4,126.6 113.1,125.5 C113.7,124.4 114.3,123.3 115.0,122.2 C115.6,121.2 116.3,120.1 116.9,119.0 C117.5,117.9 118.2,116.8 118.8,115.7 C119.5,114.7 120.1,113.6 120.8,112.5 C121.4,111.4 122.1,110.4 122.7,109.3 C123.4,108.2 124.0,107.1 124.7,106.1 C125.3,105.0 126.0,103.9 126.7,102.9 C127.4,101.8 128.1,100.7 128.7,99.7 C129.4,98.6 130.1,97.6 130.8,96.5 C131.5,95.5 132.2,94.5 132.9,93.4 C133.6,92.4 134.3,91.3 135.0,90.3 C135.7,89.2 136.4,88.2 137.1,87.1 C137.8,86.1 138.5,85.0 139.2,84.0 C139.9,83.0 140.7,82.0 141.4,81.0 C142.2,80.0 143.0,79.1 143.8,78.1 C144.6,77.2 145.5,76.3 146.4,75.4 C147.2,74.5 148.1,73.6 149.0,72.7 C149.9,71.8 150.8,70.9 151.7,70.0 C152.6,69.1 153.5,68.3 154.4,67.4 C155.3,66.5 156.2,65.6 157.1,64.7 C158.0,63.9 158.9,63.0 159.8,62.1 C160.7,61.3 161.6,60.4 162.5,59.5 C163.5,58.7 164.4,57.8 165.3,57.0 C166.3,56.2 167.2,55.3 168.2,54.5 C169.1,53.7 170.1,52.9 171.1,52.1 C172.1,51.3 173.1,50.6 174.1,49.8 C175.1,49.0 176.1,48.3 177.1,47.6 C178.1,46.8 179.1,46.1 180.2,45.4 C181.2,44.7 182.2,44.0 183.3,43.3 C184.3,42.6 185.4,41.9 186.5,41.3 C187.5,40.6 188.6,40.0 189.7,39.3 C190.8,38.7 191.9,38.1 193.0,37.5 C194.1,36.9 195.2,36.3 196.3,35.7 C197.4,35.1 198.5,34.5 199.6,33.9 C200.8,33.4 201.9,32.8 203.0,32.3 C204.2,31.7 205.3,31.2 206.4,30.6 C207.6,30.1 208.7,29.6 209.9,29.1 C211.0,28.6 212.2,28.1 213.4,27.6 C214.5,27.1 215.7,26.6 216.8,26.2 C218.0,25.7 219.2,25.2 220.3,24.8 C221.5,24.3 222.7,23.9 223.9,23.4 C225.0,23.0 226.2,22.6 227.4,22.1 C228.6,21.7 229.8,21.3 231.0,21.0 C232.2,20.6 233.4,20.2 234.6,19.9 C235.8,19.6 237.0,19.2 238.3,18.9 C239.5,18.6 240.7,18.3 241.9,18.0 C243.1,17.8 244.4,17.5 245.6,17.3 C246.8,17.0 248.1,16.8 249.3,16.6 C250.6,16.4 251.8,16.2 253.0,16.1 C254.3,15.9 255.5,15.8 256.8,15.7 C258.0,15.6 259.3,15.5 260.5,15.5Z" fill="none" stroke="#fbe9d6" stroke-width="14" filter="url(#b8)" opacity="0.55"/>
<g mask="url(#mll)"><path d="M260.5,15.5 C261.8,15.5 263.0,15.5 264.3,15.6 C265.5,15.6 266.7,15.7 268.0,15.9 C269.2,16.0 270.5,16.2 271.7,16.3 C273.0,16.5 274.2,16.7 275.4,16.9 C276.7,17.1 277.9,17.4 279.2,17.6 C280.4,17.9 281.6,18.1 282.8,18.4 C284.1,18.7 285.3,19.0 286.5,19.3 C287.7,19.6 288.9,20.0 290.1,20.3 C291.3,20.7 292.5,21.0 293.7,21.4 C294.9,21.8 296.1,22.2 297.3,22.6 C298.5,23.0 299.7,23.4 300.9,23.9 C302.0,24.3 303.2,24.8 304.4,25.2 C305.6,25.7 306.7,26.2 307.9,26.6 C309.1,27.1 310.2,27.6 311.4,28.1 C312.5,28.6 313.7,29.1 314.8,29.6 C316.0,30.1 317.1,30.7 318.2,31.2 C319.4,31.7 320.5,32.3 321.6,32.9 C322.7,33.5 323.8,34.1 324.9,34.7 C326.0,35.3 327.1,35.9 328.2,36.6 C329.2,37.3 330.3,37.9 331.4,38.6 C332.4,39.3 333.5,40.0 334.5,40.7 C335.5,41.4 336.6,42.1 337.6,42.8 C338.6,43.6 339.6,44.3 340.6,45.1 C341.6,45.8 342.7,46.6 343.7,47.3 C344.7,48.1 345.6,48.9 346.6,49.7 C347.6,50.4 348.6,51.2 349.6,52.0 C350.6,52.8 351.6,53.6 352.5,54.4 C353.5,55.2 354.5,56.0 355.4,56.8 C356.4,57.6 357.4,58.4 358.3,59.2 C359.3,60.0 360.3,60.8 361.2,61.7 C362.2,62.5 363.1,63.3 364.0,64.1 C365.0,65.0 365.9,65.8 366.9,66.7 C367.8,67.5 368.7,68.3 369.6,69.2 C370.5,70.1 371.5,70.9 372.3,71.8 C373.2,72.7 374.1,73.6 375.0,74.5 C375.9,75.4 376.7,76.3 377.5,77.3 C378.4,78.2 379.2,79.2 380.0,80.1 C380.9,81.1 381.7,82.0 382.5,83.0 C383.3,84.0 384.1,84.9 384.9,85.9 C385.7,86.9 386.5,87.8 387.3,88.8 C388.1,89.8 388.9,90.8 389.7,91.7 C390.5,92.7 391.3,93.7 392.1,94.6 C392.9,95.6 393.7,96.6 394.5,97.5 C395.3,98.5 396.2,99.4 397.0,100.4 C397.8,101.3 398.6,102.3 399.4,103.2 C400.2,104.2 401.1,105.2 401.8,106.1 C402.6,107.1 403.4,108.1 404.2,109.1 C404.9,110.1 405.7,111.1 406.4,112.2 C407.1,113.2 407.8,114.2 408.5,115.3 C409.2,116.3 409.8,117.4 410.5,118.5 C411.2,119.5 411.8,120.6 412.5,121.7 C413.1,122.8 413.8,123.8 414.4,124.9 C415.1,126.0 415.7,127.1 416.3,128.2 C417.0,129.3 417.6,130.3 418.2,131.4 C418.8,132.5 419.5,133.6 420.0,134.7 C420.6,135.9 421.2,137.0 421.8,138.1 C422.4,139.2 422.9,140.3 423.4,141.5 C424.0,142.6 424.5,143.8 425.0,144.9 C425.4,146.1 425.9,147.2 426.3,148.4 C426.8,149.6 427.2,150.8 427.6,152.0 C428.0,153.2 428.4,154.4 428.7,155.6 C429.1,156.8 429.4,158.0 429.7,159.2 C430.0,160.4 430.3,161.6 430.6,162.9 C430.8,164.1 431.1,165.3 431.3,166.6 C431.5,167.8 431.7,169.0 431.9,170.3 C432.1,171.5 432.3,172.8 432.4,174.0 C432.6,175.3 432.8,176.5 432.9,177.8 C433.0,179.0 433.1,180.3 433.2,181.5 C433.3,182.8 433.4,184.0 433.5,185.3 C433.6,186.5 433.6,187.8 433.6,189.1 C433.7,190.3 433.7,191.6 433.7,192.8 C433.7,194.1 433.7,195.3 433.6,196.6 C433.5,197.8 433.5,199.1 433.4,200.3 C433.2,201.6 433.1,202.8 432.9,204.1 C432.8,205.3 432.6,206.6 432.3,207.8 C432.1,209.0 431.9,210.2 431.6,211.5 C431.3,212.7 431.0,213.9 430.6,215.1 C430.3,216.3 429.9,217.5 429.5,218.7 C429.1,219.9 428.7,221.1 428.2,222.2 C427.8,223.4 427.3,224.6 426.8,225.7 C426.3,226.8 425.7,228.0 425.2,229.1 C424.6,230.2 424.0,231.3 423.4,232.4 C422.8,233.5 422.1,234.6 421.5,235.7 C420.8,236.8 420.2,237.8 419.5,238.9 C418.8,239.9 418.1,241.0 417.4,242.0 C416.6,243.0 415.9,244.0 415.1,245.0 C414.4,246.0 413.6,247.0 412.8,248.0 C412.1,249.0 411.3,250.0 410.5,250.9 C409.6,251.9 408.8,252.8 408.0,253.8 C407.1,254.7 406.3,255.6 405.4,256.5 C404.5,257.4 403.6,258.3 402.7,259.2 C401.8,260.0 400.9,260.9 399.9,261.7 C399.0,262.5 398.0,263.3 397.1,264.1 C396.1,264.9 395.1,265.7 394.1,266.5 C393.2,267.3 392.2,268.1 391.2,268.9 C390.2,269.6 389.2,270.4 388.2,271.1 C387.2,271.9 386.1,272.6 385.1,273.3 C384.1,274.1 383.1,274.8 382.0,275.5 C381.0,276.2 379.9,276.9 378.8,277.5 C377.8,278.2 376.7,278.8 375.6,279.5 C374.5,280.1 373.4,280.7 372.3,281.3 C371.2,281.9 370.1,282.5 369.0,283.1 C367.9,283.7 366.8,284.2 365.6,284.7 C364.5,285.3 363.3,285.8 362.2,286.3 C361.0,286.8 359.9,287.3 358.7,287.7 C357.5,288.2 356.4,288.7 355.2,289.1 C354.0,289.5 352.8,289.9 351.6,290.4 C350.4,290.8 349.2,291.2 348.1,291.6 C346.9,292.0 345.7,292.3 344.5,292.7 C343.3,293.1 342.1,293.5 340.8,293.8 C339.6,294.2 338.4,294.5 337.2,294.9 C336.0,295.2 334.8,295.6 333.6,295.9 C332.4,296.2 331.2,296.5 329.9,296.8 C328.7,297.1 327.5,297.4 326.3,297.7 C325.0,298.0 323.8,298.2 322.6,298.5 C321.3,298.7 320.1,299.0 318.9,299.2 C317.6,299.4 316.4,299.6 315.1,299.8 C313.9,300.0 312.7,300.2 311.4,300.4 C310.2,300.6 308.9,300.8 307.7,300.9 C306.4,301.1 305.2,301.2 303.9,301.4 C302.7,301.5 301.4,301.6 300.2,301.8 C298.9,301.9 297.7,302.0 296.4,302.1 C295.2,302.2 293.9,302.4 292.7,302.5 C291.4,302.6 290.2,302.6 288.9,302.7 C287.6,302.8 286.4,302.9 285.1,303.0 C283.9,303.0 282.6,303.1 281.4,303.2 C280.1,303.2 278.8,303.3 277.6,303.3 C276.3,303.4 275.1,303.4 273.8,303.4 C272.6,303.5 271.3,303.5 270.0,303.5 C268.8,303.6 267.5,303.6 266.3,303.6 C265.0,303.6 263.7,303.6 262.5,303.6 C261.2,303.5 260.0,303.5 258.7,303.5 C257.5,303.5 256.2,303.4 254.9,303.3 C253.7,303.3 252.4,303.2 251.2,303.1 C249.9,303.1 248.7,303.0 247.4,302.9 C246.2,302.8 244.9,302.7 243.7,302.6 C242.4,302.4 241.1,302.3 239.9,302.2 C238.6,302.0 237.4,301.9 236.1,301.7 C234.9,301.6 233.7,301.4 232.4,301.2 C231.2,301.1 229.9,300.9 228.7,300.7 C227.4,300.6 226.2,300.4 224.9,300.2 C223.7,300.0 222.4,299.8 221.2,299.6 C220.0,299.4 218.7,299.2 217.5,299.0 C216.2,298.8 215.0,298.6 213.8,298.3 C212.5,298.1 211.3,297.9 210.0,297.6 C208.8,297.4 207.6,297.1 206.4,296.9 C205.1,296.6 203.9,296.3 202.7,296.0 C201.4,295.8 200.2,295.5 199.0,295.2 C197.8,294.8 196.6,294.5 195.3,294.2 C194.1,293.9 192.9,293.6 191.7,293.2 C190.5,292.9 189.3,292.5 188.1,292.2 C186.9,291.8 185.7,291.5 184.5,291.1 C183.3,290.7 182.1,290.4 180.9,290.0 C179.7,289.6 178.5,289.2 177.3,288.8 C176.1,288.4 174.9,288.0 173.7,287.5 C172.5,287.1 171.4,286.7 170.2,286.2 C169.0,285.8 167.8,285.3 166.7,284.8 C165.5,284.3 164.4,283.8 163.2,283.3 C162.1,282.8 160.9,282.3 159.8,281.8 C158.6,281.3 157.5,280.7 156.4,280.2 C155.2,279.6 154.1,279.1 153.0,278.5 C151.9,277.9 150.8,277.3 149.7,276.7 C148.6,276.1 147.5,275.5 146.4,274.8 C145.4,274.2 144.3,273.5 143.2,272.8 C142.2,272.1 141.2,271.4 140.1,270.7 C139.1,269.9 138.1,269.2 137.1,268.5 C136.1,267.7 135.1,267.0 134.1,266.2 C133.1,265.4 132.1,264.6 131.1,263.9 C130.1,263.1 129.1,262.3 128.1,261.5 C127.2,260.7 126.2,259.9 125.2,259.1 C124.3,258.3 123.3,257.5 122.4,256.6 C121.5,255.8 120.6,254.9 119.7,254.0 C118.9,253.1 118.0,252.2 117.2,251.2 C116.4,250.3 115.6,249.3 114.9,248.3 C114.1,247.3 113.4,246.3 112.7,245.2 C112.0,244.2 111.3,243.1 110.7,242.1 C110.0,241.0 109.4,239.9 108.7,238.8 C108.1,237.8 107.5,236.7 106.9,235.6 C106.2,234.5 105.6,233.4 105.1,232.3 C104.5,231.2 103.9,230.0 103.3,228.9 C102.8,227.8 102.2,226.7 101.7,225.5 C101.2,224.4 100.7,223.2 100.2,222.1 C99.8,220.9 99.3,219.7 98.9,218.5 C98.4,217.4 98.0,216.2 97.6,215.0 C97.2,213.8 96.8,212.6 96.5,211.4 C96.1,210.2 95.8,209.0 95.5,207.8 C95.2,206.6 94.9,205.3 94.6,204.1 C94.3,202.9 94.1,201.7 93.9,200.4 C93.7,199.2 93.5,197.9 93.3,196.7 C93.2,195.5 93.1,194.2 93.0,193.0 C92.9,191.7 92.9,190.5 92.9,189.2 C92.9,188.0 92.9,186.7 93.0,185.5 C93.0,184.2 93.1,183.0 93.2,181.7 C93.3,180.5 93.5,179.2 93.6,178.0 C93.8,176.7 93.9,175.5 94.1,174.2 C94.3,173.0 94.5,171.7 94.7,170.5 C94.9,169.3 95.1,168.0 95.3,166.8 C95.6,165.6 95.9,164.3 96.1,163.1 C96.4,161.9 96.7,160.7 97.1,159.4 C97.4,158.2 97.7,157.0 98.1,155.8 C98.5,154.6 98.9,153.4 99.3,152.3 C99.7,151.1 100.2,149.9 100.6,148.7 C101.1,147.6 101.6,146.4 102.1,145.3 C102.7,144.2 103.2,143.0 103.8,141.9 C104.4,140.8 105.0,139.7 105.6,138.6 C106.2,137.5 106.8,136.4 107.4,135.3 C108.0,134.2 108.6,133.1 109.3,132.0 C109.9,130.9 110.5,129.9 111.2,128.8 C111.8,127.7 112.4,126.6 113.1,125.5 C113.7,124.4 114.3,123.3 115.0,122.2 C115.6,121.2 116.3,120.1 116.9,119.0 C117.5,117.9 118.2,116.8 118.8,115.7 C119.5,114.7 120.1,113.6 120.8,112.5 C121.4,111.4 122.1,110.4 122.7,109.3 C123.4,108.2 124.0,107.1 124.7,106.1 C125.3,105.0 126.0,103.9 126.7,102.9 C127.4,101.8 128.1,100.7 128.7,99.7 C129.4,98.6 130.1,97.6 130.8,96.5 C131.5,95.5 132.2,94.5 132.9,93.4 C133.6,92.4 134.3,91.3 135.0,90.3 C135.7,89.2 136.4,88.2 137.1,87.1 C137.8,86.1 138.5,85.0 139.2,84.0 C139.9,83.0 140.7,82.0 141.4,81.0 C142.2,80.0 143.0,79.1 143.8,78.1 C144.6,77.2 145.5,76.3 146.4,75.4 C147.2,74.5 148.1,73.6 149.0,72.7 C149.9,71.8 150.8,70.9 151.7,70.0 C152.6,69.1 153.5,68.3 154.4,67.4 C155.3,66.5 156.2,65.6 157.1,64.7 C158.0,63.9 158.9,63.0 159.8,62.1 C160.7,61.3 161.6,60.4 162.5,59.5 C163.5,58.7 164.4,57.8 165.3,57.0 C166.3,56.2 167.2,55.3 168.2,54.5 C169.1,53.7 170.1,52.9 171.1,52.1 C172.1,51.3 173.1,50.6 174.1,49.8 C175.1,49.0 176.1,48.3 177.1,47.6 C178.1,46.8 179.1,46.1 180.2,45.4 C181.2,44.7 182.2,44.0 183.3,43.3 C184.3,42.6 185.4,41.9 186.5,41.3 C187.5,40.6 188.6,40.0 189.7,39.3 C190.8,38.7 191.9,38.1 193.0,37.5 C194.1,36.9 195.2,36.3 196.3,35.7 C197.4,35.1 198.5,34.5 199.6,33.9 C200.8,33.4 201.9,32.8 203.0,32.3 C204.2,31.7 205.3,31.2 206.4,30.6 C207.6,30.1 208.7,29.6 209.9,29.1 C211.0,28.6 212.2,28.1 213.4,27.6 C214.5,27.1 215.7,26.6 216.8,26.2 C218.0,25.7 219.2,25.2 220.3,24.8 C221.5,24.3 222.7,23.9 223.9,23.4 C225.0,23.0 226.2,22.6 227.4,22.1 C228.6,21.7 229.8,21.3 231.0,21.0 C232.2,20.6 233.4,20.2 234.6,19.9 C235.8,19.6 237.0,19.2 238.3,18.9 C239.5,18.6 240.7,18.3 241.9,18.0 C243.1,17.8 244.4,17.5 245.6,17.3 C246.8,17.0 248.1,16.8 249.3,16.6 C250.6,16.4 251.8,16.2 253.0,16.1 C254.3,15.9 255.5,15.8 256.8,15.7 C258.0,15.6 259.3,15.5 260.5,15.5Z" fill="none" stroke="#f4e6d6" stroke-width="34" filter="url(#b8)" opacity="0.75"/></g>
<path d="M260.5,15.5 C261.8,15.5 263.0,15.5 264.3,15.6 C265.5,15.6 266.7,15.7 268.0,15.9 C269.2,16.0 270.5,16.2 271.7,16.3 C273.0,16.5 274.2,16.7 275.4,16.9 C276.7,17.1 277.9,17.4 279.2,17.6 C280.4,17.9 281.6,18.1 282.8,18.4 C284.1,18.7 285.3,19.0 286.5,19.3 C287.7,19.6 288.9,20.0 290.1,20.3 C291.3,20.7 292.5,21.0 293.7,21.4 C294.9,21.8 296.1,22.2 297.3,22.6 C298.5,23.0 299.7,23.4 300.9,23.9 C302.0,24.3 303.2,24.8 304.4,25.2 C305.6,25.7 306.7,26.2 307.9,26.6 C309.1,27.1 310.2,27.6 311.4,28.1 C312.5,28.6 313.7,29.1 314.8,29.6 C316.0,30.1 317.1,30.7 318.2,31.2 C319.4,31.7 320.5,32.3 321.6,32.9 C322.7,33.5 323.8,34.1 324.9,34.7 C326.0,35.3 327.1,35.9 328.2,36.6 C329.2,37.3 330.3,37.9 331.4,38.6 C332.4,39.3 333.5,40.0 334.5,40.7 C335.5,41.4 336.6,42.1 337.6,42.8 C338.6,43.6 339.6,44.3 340.6,45.1 C341.6,45.8 342.7,46.6 343.7,47.3 C344.7,48.1 345.6,48.9 346.6,49.7 C347.6,50.4 348.6,51.2 349.6,52.0 C350.6,52.8 351.6,53.6 352.5,54.4 C353.5,55.2 354.5,56.0 355.4,56.8 C356.4,57.6 357.4,58.4 358.3,59.2 C359.3,60.0 360.3,60.8 361.2,61.7 C362.2,62.5 363.1,63.3 364.0,64.1 C365.0,65.0 365.9,65.8 366.9,66.7 C367.8,67.5 368.7,68.3 369.6,69.2 C370.5,70.1 371.5,70.9 372.3,71.8 C373.2,72.7 374.1,73.6 375.0,74.5 C375.9,75.4 376.7,76.3 377.5,77.3 C378.4,78.2 379.2,79.2 380.0,80.1 C380.9,81.1 381.7,82.0 382.5,83.0 C383.3,84.0 384.1,84.9 384.9,85.9 C385.7,86.9 386.5,87.8 387.3,88.8 C388.1,89.8 388.9,90.8 389.7,91.7 C390.5,92.7 391.3,93.7 392.1,94.6 C392.9,95.6 393.7,96.6 394.5,97.5 C395.3,98.5 396.2,99.4 397.0,100.4 C397.8,101.3 398.6,102.3 399.4,103.2 C400.2,104.2 401.1,105.2 401.8,106.1 C402.6,107.1 403.4,108.1 404.2,109.1 C404.9,110.1 405.7,111.1 406.4,112.2 C407.1,113.2 407.8,114.2 408.5,115.3 C409.2,116.3 409.8,117.4 410.5,118.5 C411.2,119.5 411.8,120.6 412.5,121.7 C413.1,122.8 413.8,123.8 414.4,124.9 C415.1,126.0 415.7,127.1 416.3,128.2 C417.0,129.3 417.6,130.3 418.2,131.4 C418.8,132.5 419.5,133.6 420.0,134.7 C420.6,135.9 421.2,137.0 421.8,138.1 C422.4,139.2 422.9,140.3 423.4,141.5 C424.0,142.6 424.5,143.8 425.0,144.9 C425.4,146.1 425.9,147.2 426.3,148.4 C426.8,149.6 427.2,150.8 427.6,152.0 C428.0,153.2 428.4,154.4 428.7,155.6 C429.1,156.8 429.4,158.0 429.7,159.2 C430.0,160.4 430.3,161.6 430.6,162.9 C430.8,164.1 431.1,165.3 431.3,166.6 C431.5,167.8 431.7,169.0 431.9,170.3 C432.1,171.5 432.3,172.8 432.4,174.0 C432.6,175.3 432.8,176.5 432.9,177.8 C433.0,179.0 433.1,180.3 433.2,181.5 C433.3,182.8 433.4,184.0 433.5,185.3 C433.6,186.5 433.6,187.8 433.6,189.1 C433.7,190.3 433.7,191.6 433.7,192.8 C433.7,194.1 433.7,195.3 433.6,196.6 C433.5,197.8 433.5,199.1 433.4,200.3 C433.2,201.6 433.1,202.8 432.9,204.1 C432.8,205.3 432.6,206.6 432.3,207.8 C432.1,209.0 431.9,210.2 431.6,211.5 C431.3,212.7 431.0,213.9 430.6,215.1 C430.3,216.3 429.9,217.5 429.5,218.7 C429.1,219.9 428.7,221.1 428.2,222.2 C427.8,223.4 427.3,224.6 426.8,225.7 C426.3,226.8 425.7,228.0 425.2,229.1 C424.6,230.2 424.0,231.3 423.4,232.4 C422.8,233.5 422.1,234.6 421.5,235.7 C420.8,236.8 420.2,237.8 419.5,238.9 C418.8,239.9 418.1,241.0 417.4,242.0 C416.6,243.0 415.9,244.0 415.1,245.0 C414.4,246.0 413.6,247.0 412.8,248.0 C412.1,249.0 411.3,250.0 410.5,250.9 C409.6,251.9 408.8,252.8 408.0,253.8 C407.1,254.7 406.3,255.6 405.4,256.5 C404.5,257.4 403.6,258.3 402.7,259.2 C401.8,260.0 400.9,260.9 399.9,261.7 C399.0,262.5 398.0,263.3 397.1,264.1 C396.1,264.9 395.1,265.7 394.1,266.5 C393.2,267.3 392.2,268.1 391.2,268.9 C390.2,269.6 389.2,270.4 388.2,271.1 C387.2,271.9 386.1,272.6 385.1,273.3 C384.1,274.1 383.1,274.8 382.0,275.5 C381.0,276.2 379.9,276.9 378.8,277.5 C377.8,278.2 376.7,278.8 375.6,279.5 C374.5,280.1 373.4,280.7 372.3,281.3 C371.2,281.9 370.1,282.5 369.0,283.1 C367.9,283.7 366.8,284.2 365.6,284.7 C364.5,285.3 363.3,285.8 362.2,286.3 C361.0,286.8 359.9,287.3 358.7,287.7 C357.5,288.2 356.4,288.7 355.2,289.1 C354.0,289.5 352.8,289.9 351.6,290.4 C350.4,290.8 349.2,291.2 348.1,291.6 C346.9,292.0 345.7,292.3 344.5,292.7 C343.3,293.1 342.1,293.5 340.8,293.8 C339.6,294.2 338.4,294.5 337.2,294.9 C336.0,295.2 334.8,295.6 333.6,295.9 C332.4,296.2 331.2,296.5 329.9,296.8 C328.7,297.1 327.5,297.4 326.3,297.7 C325.0,298.0 323.8,298.2 322.6,298.5 C321.3,298.7 320.1,299.0 318.9,299.2 C317.6,299.4 316.4,299.6 315.1,299.8 C313.9,300.0 312.7,300.2 311.4,300.4 C310.2,300.6 308.9,300.8 307.7,300.9 C306.4,301.1 305.2,301.2 303.9,301.4 C302.7,301.5 301.4,301.6 300.2,301.8 C298.9,301.9 297.7,302.0 296.4,302.1 C295.2,302.2 293.9,302.4 292.7,302.5 C291.4,302.6 290.2,302.6 288.9,302.7 C287.6,302.8 286.4,302.9 285.1,303.0 C283.9,303.0 282.6,303.1 281.4,303.2 C280.1,303.2 278.8,303.3 277.6,303.3 C276.3,303.4 275.1,303.4 273.8,303.4 C272.6,303.5 271.3,303.5 270.0,303.5 C268.8,303.6 267.5,303.6 266.3,303.6 C265.0,303.6 263.7,303.6 262.5,303.6 C261.2,303.5 260.0,303.5 258.7,303.5 C257.5,303.5 256.2,303.4 254.9,303.3 C253.7,303.3 252.4,303.2 251.2,303.1 C249.9,303.1 248.7,303.0 247.4,302.9 C246.2,302.8 244.9,302.7 243.7,302.6 C242.4,302.4 241.1,302.3 239.9,302.2 C238.6,302.0 237.4,301.9 236.1,301.7 C234.9,301.6 233.7,301.4 232.4,301.2 C231.2,301.1 229.9,300.9 228.7,300.7 C227.4,300.6 226.2,300.4 224.9,300.2 C223.7,300.0 222.4,299.8 221.2,299.6 C220.0,299.4 218.7,299.2 217.5,299.0 C216.2,298.8 215.0,298.6 213.8,298.3 C212.5,298.1 211.3,297.9 210.0,297.6 C208.8,297.4 207.6,297.1 206.4,296.9 C205.1,296.6 203.9,296.3 202.7,296.0 C201.4,295.8 200.2,295.5 199.0,295.2 C197.8,294.8 196.6,294.5 195.3,294.2 C194.1,293.9 192.9,293.6 191.7,293.2 C190.5,292.9 189.3,292.5 188.1,292.2 C186.9,291.8 185.7,291.5 184.5,291.1 C183.3,290.7 182.1,290.4 180.9,290.0 C179.7,289.6 178.5,289.2 177.3,288.8 C176.1,288.4 174.9,288.0 173.7,287.5 C172.5,287.1 171.4,286.7 170.2,286.2 C169.0,285.8 167.8,285.3 166.7,284.8 C165.5,284.3 164.4,283.8 163.2,283.3 C162.1,282.8 160.9,282.3 159.8,281.8 C158.6,281.3 157.5,280.7 156.4,280.2 C155.2,279.6 154.1,279.1 153.0,278.5 C151.9,277.9 150.8,277.3 149.7,276.7 C148.6,276.1 147.5,275.5 146.4,274.8 C145.4,274.2 144.3,273.5 143.2,272.8 C142.2,272.1 141.2,271.4 140.1,270.7 C139.1,269.9 138.1,269.2 137.1,268.5 C136.1,267.7 135.1,267.0 134.1,266.2 C133.1,265.4 132.1,264.6 131.1,263.9 C130.1,263.1 129.1,262.3 128.1,261.5 C127.2,260.7 126.2,259.9 125.2,259.1 C124.3,258.3 123.3,257.5 122.4,256.6 C121.5,255.8 120.6,254.9 119.7,254.0 C118.9,253.1 118.0,252.2 117.2,251.2 C116.4,250.3 115.6,249.3 114.9,248.3 C114.1,247.3 113.4,246.3 112.7,245.2 C112.0,244.2 111.3,243.1 110.7,242.1 C110.0,241.0 109.4,239.9 108.7,238.8 C108.1,237.8 107.5,236.7 106.9,235.6 C106.2,234.5 105.6,233.4 105.1,232.3 C104.5,231.2 103.9,230.0 103.3,228.9 C102.8,227.8 102.2,226.7 101.7,225.5 C101.2,224.4 100.7,223.2 100.2,222.1 C99.8,220.9 99.3,219.7 98.9,218.5 C98.4,217.4 98.0,216.2 97.6,215.0 C97.2,213.8 96.8,212.6 96.5,211.4 C96.1,210.2 95.8,209.0 95.5,207.8 C95.2,206.6 94.9,205.3 94.6,204.1 C94.3,202.9 94.1,201.7 93.9,200.4 C93.7,199.2 93.5,197.9 93.3,196.7 C93.2,195.5 93.1,194.2 93.0,193.0 C92.9,191.7 92.9,190.5 92.9,189.2 C92.9,188.0 92.9,186.7 93.0,185.5 C93.0,184.2 93.1,183.0 93.2,181.7 C93.3,180.5 93.5,179.2 93.6,178.0 C93.8,176.7 93.9,175.5 94.1,174.2 C94.3,173.0 94.5,171.7 94.7,170.5 C94.9,169.3 95.1,168.0 95.3,166.8 C95.6,165.6 95.9,164.3 96.1,163.1 C96.4,161.9 96.7,160.7 97.1,159.4 C97.4,158.2 97.7,157.0 98.1,155.8 C98.5,154.6 98.9,153.4 99.3,152.3 C99.7,151.1 100.2,149.9 100.6,148.7 C101.1,147.6 101.6,146.4 102.1,145.3 C102.7,144.2 103.2,143.0 103.8,141.9 C104.4,140.8 105.0,139.7 105.6,138.6 C106.2,137.5 106.8,136.4 107.4,135.3 C108.0,134.2 108.6,133.1 109.3,132.0 C109.9,130.9 110.5,129.9 111.2,128.8 C111.8,127.7 112.4,126.6 113.1,125.5 C113.7,124.4 114.3,123.3 115.0,122.2 C115.6,121.2 116.3,120.1 116.9,119.0 C117.5,117.9 118.2,116.8 118.8,115.7 C119.5,114.7 120.1,113.6 120.8,112.5 C121.4,111.4 122.1,110.4 122.7,109.3 C123.4,108.2 124.0,107.1 124.7,106.1 C125.3,105.0 126.0,103.9 126.7,102.9 C127.4,101.8 128.1,100.7 128.7,99.7 C129.4,98.6 130.1,97.6 130.8,96.5 C131.5,95.5 132.2,94.5 132.9,93.4 C133.6,92.4 134.3,91.3 135.0,90.3 C135.7,89.2 136.4,88.2 137.1,87.1 C137.8,86.1 138.5,85.0 139.2,84.0 C139.9,83.0 140.7,82.0 141.4,81.0 C142.2,80.0 143.0,79.1 143.8,78.1 C144.6,77.2 145.5,76.3 146.4,75.4 C147.2,74.5 148.1,73.6 149.0,72.7 C149.9,71.8 150.8,70.9 151.7,70.0 C152.6,69.1 153.5,68.3 154.4,67.4 C155.3,66.5 156.2,65.6 157.1,64.7 C158.0,63.9 158.9,63.0 159.8,62.1 C160.7,61.3 161.6,60.4 162.5,59.5 C163.5,58.7 164.4,57.8 165.3,57.0 C166.3,56.2 167.2,55.3 168.2,54.5 C169.1,53.7 170.1,52.9 171.1,52.1 C172.1,51.3 173.1,50.6 174.1,49.8 C175.1,49.0 176.1,48.3 177.1,47.6 C178.1,46.8 179.1,46.1 180.2,45.4 C181.2,44.7 182.2,44.0 183.3,43.3 C184.3,42.6 185.4,41.9 186.5,41.3 C187.5,40.6 188.6,40.0 189.7,39.3 C190.8,38.7 191.9,38.1 193.0,37.5 C194.1,36.9 195.2,36.3 196.3,35.7 C197.4,35.1 198.5,34.5 199.6,33.9 C200.8,33.4 201.9,32.8 203.0,32.3 C204.2,31.7 205.3,31.2 206.4,30.6 C207.6,30.1 208.7,29.6 209.9,29.1 C211.0,28.6 212.2,28.1 213.4,27.6 C214.5,27.1 215.7,26.6 216.8,26.2 C218.0,25.7 219.2,25.2 220.3,24.8 C221.5,24.3 222.7,23.9 223.9,23.4 C225.0,23.0 226.2,22.6 227.4,22.1 C228.6,21.7 229.8,21.3 231.0,21.0 C232.2,20.6 233.4,20.2 234.6,19.9 C235.8,19.6 237.0,19.2 238.3,18.9 C239.5,18.6 240.7,18.3 241.9,18.0 C243.1,17.8 244.4,17.5 245.6,17.3 C246.8,17.0 248.1,16.8 249.3,16.6 C250.6,16.4 251.8,16.2 253.0,16.1 C254.3,15.9 255.5,15.8 256.8,15.7 C258.0,15.6 259.3,15.5 260.5,15.5Z" fill="none" stroke="#c9ab8e" stroke-width="2" opacity="0.55" filter="url(#b05)"/>
<g mask="url(#mrim)"><path d="M260.5,15.5 C261.8,15.5 263.0,15.5 264.3,15.6 C265.5,15.6 266.7,15.7 268.0,15.9 C269.2,16.0 270.5,16.2 271.7,16.3 C273.0,16.5 274.2,16.7 275.4,16.9 C276.7,17.1 277.9,17.4 279.2,17.6 C280.4,17.9 281.6,18.1 282.8,18.4 C284.1,18.7 285.3,19.0 286.5,19.3 C287.7,19.6 288.9,20.0 290.1,20.3 C291.3,20.7 292.5,21.0 293.7,21.4 C294.9,21.8 296.1,22.2 297.3,22.6 C298.5,23.0 299.7,23.4 300.9,23.9 C302.0,24.3 303.2,24.8 304.4,25.2 C305.6,25.7 306.7,26.2 307.9,26.6 C309.1,27.1 310.2,27.6 311.4,28.1 C312.5,28.6 313.7,29.1 314.8,29.6 C316.0,30.1 317.1,30.7 318.2,31.2 C319.4,31.7 320.5,32.3 321.6,32.9 C322.7,33.5 323.8,34.1 324.9,34.7 C326.0,35.3 327.1,35.9 328.2,36.6 C329.2,37.3 330.3,37.9 331.4,38.6 C332.4,39.3 333.5,40.0 334.5,40.7 C335.5,41.4 336.6,42.1 337.6,42.8 C338.6,43.6 339.6,44.3 340.6,45.1 C341.6,45.8 342.7,46.6 343.7,47.3 C344.7,48.1 345.6,48.9 346.6,49.7 C347.6,50.4 348.6,51.2 349.6,52.0 C350.6,52.8 351.6,53.6 352.5,54.4 C353.5,55.2 354.5,56.0 355.4,56.8 C356.4,57.6 357.4,58.4 358.3,59.2 C359.3,60.0 360.3,60.8 361.2,61.7 C362.2,62.5 363.1,63.3 364.0,64.1 C365.0,65.0 365.9,65.8 366.9,66.7 C367.8,67.5 368.7,68.3 369.6,69.2 C370.5,70.1 371.5,70.9 372.3,71.8 C373.2,72.7 374.1,73.6 375.0,74.5 C375.9,75.4 376.7,76.3 377.5,77.3 C378.4,78.2 379.2,79.2 380.0,80.1 C380.9,81.1 381.7,82.0 382.5,83.0 C383.3,84.0 384.1,84.9 384.9,85.9 C385.7,86.9 386.5,87.8 387.3,88.8 C388.1,89.8 388.9,90.8 389.7,91.7 C390.5,92.7 391.3,93.7 392.1,94.6 C392.9,95.6 393.7,96.6 394.5,97.5 C395.3,98.5 396.2,99.4 397.0,100.4 C397.8,101.3 398.6,102.3 399.4,103.2 C400.2,104.2 401.1,105.2 401.8,106.1 C402.6,107.1 403.4,108.1 404.2,109.1 C404.9,110.1 405.7,111.1 406.4,112.2 C407.1,113.2 407.8,114.2 408.5,115.3 C409.2,116.3 409.8,117.4 410.5,118.5 C411.2,119.5 411.8,120.6 412.5,121.7 C413.1,122.8 413.8,123.8 414.4,124.9 C415.1,126.0 415.7,127.1 416.3,128.2 C417.0,129.3 417.6,130.3 418.2,131.4 C418.8,132.5 419.5,133.6 420.0,134.7 C420.6,135.9 421.2,137.0 421.8,138.1 C422.4,139.2 422.9,140.3 423.4,141.5 C424.0,142.6 424.5,143.8 425.0,144.9 C425.4,146.1 425.9,147.2 426.3,148.4 C426.8,149.6 427.2,150.8 427.6,152.0 C428.0,153.2 428.4,154.4 428.7,155.6 C429.1,156.8 429.4,158.0 429.7,159.2 C430.0,160.4 430.3,161.6 430.6,162.9 C430.8,164.1 431.1,165.3 431.3,166.6 C431.5,167.8 431.7,169.0 431.9,170.3 C432.1,171.5 432.3,172.8 432.4,174.0 C432.6,175.3 432.8,176.5 432.9,177.8 C433.0,179.0 433.1,180.3 433.2,181.5 C433.3,182.8 433.4,184.0 433.5,185.3 C433.6,186.5 433.6,187.8 433.6,189.1 C433.7,190.3 433.7,191.6 433.7,192.8 C433.7,194.1 433.7,195.3 433.6,196.6 C433.5,197.8 433.5,199.1 433.4,200.3 C433.2,201.6 433.1,202.8 432.9,204.1 C432.8,205.3 432.6,206.6 432.3,207.8 C432.1,209.0 431.9,210.2 431.6,211.5 C431.3,212.7 431.0,213.9 430.6,215.1 C430.3,216.3 429.9,217.5 429.5,218.7 C429.1,219.9 428.7,221.1 428.2,222.2 C427.8,223.4 427.3,224.6 426.8,225.7 C426.3,226.8 425.7,228.0 425.2,229.1 C424.6,230.2 424.0,231.3 423.4,232.4 C422.8,233.5 422.1,234.6 421.5,235.7 C420.8,236.8 420.2,237.8 419.5,238.9 C418.8,239.9 418.1,241.0 417.4,242.0 C416.6,243.0 415.9,244.0 415.1,245.0 C414.4,246.0 413.6,247.0 412.8,248.0 C412.1,249.0 411.3,250.0 410.5,250.9 C409.6,251.9 408.8,252.8 408.0,253.8 C407.1,254.7 406.3,255.6 405.4,256.5 C404.5,257.4 403.6,258.3 402.7,259.2 C401.8,260.0 400.9,260.9 399.9,261.7 C399.0,262.5 398.0,263.3 397.1,264.1 C396.1,264.9 395.1,265.7 394.1,266.5 C393.2,267.3 392.2,268.1 391.2,268.9 C390.2,269.6 389.2,270.4 388.2,271.1 C387.2,271.9 386.1,272.6 385.1,273.3 C384.1,274.1 383.1,274.8 382.0,275.5 C381.0,276.2 379.9,276.9 378.8,277.5 C377.8,278.2 376.7,278.8 375.6,279.5 C374.5,280.1 373.4,280.7 372.3,281.3 C371.2,281.9 370.1,282.5 369.0,283.1 C367.9,283.7 366.8,284.2 365.6,284.7 C364.5,285.3 363.3,285.8 362.2,286.3 C361.0,286.8 359.9,287.3 358.7,287.7 C357.5,288.2 356.4,288.7 355.2,289.1 C354.0,289.5 352.8,289.9 351.6,290.4 C350.4,290.8 349.2,291.2 348.1,291.6 C346.9,292.0 345.7,292.3 344.5,292.7 C343.3,293.1 342.1,293.5 340.8,293.8 C339.6,294.2 338.4,294.5 337.2,294.9 C336.0,295.2 334.8,295.6 333.6,295.9 C332.4,296.2 331.2,296.5 329.9,296.8 C328.7,297.1 327.5,297.4 326.3,297.7 C325.0,298.0 323.8,298.2 322.6,298.5 C321.3,298.7 320.1,299.0 318.9,299.2 C317.6,299.4 316.4,299.6 315.1,299.8 C313.9,300.0 312.7,300.2 311.4,300.4 C310.2,300.6 308.9,300.8 307.7,300.9 C306.4,301.1 305.2,301.2 303.9,301.4 C302.7,301.5 301.4,301.6 300.2,301.8 C298.9,301.9 297.7,302.0 296.4,302.1 C295.2,302.2 293.9,302.4 292.7,302.5 C291.4,302.6 290.2,302.6 288.9,302.7 C287.6,302.8 286.4,302.9 285.1,303.0 C283.9,303.0 282.6,303.1 281.4,303.2 C280.1,303.2 278.8,303.3 277.6,303.3 C276.3,303.4 275.1,303.4 273.8,303.4 C272.6,303.5 271.3,303.5 270.0,303.5 C268.8,303.6 267.5,303.6 266.3,303.6 C265.0,303.6 263.7,303.6 262.5,303.6 C261.2,303.5 260.0,303.5 258.7,303.5 C257.5,303.5 256.2,303.4 254.9,303.3 C253.7,303.3 252.4,303.2 251.2,303.1 C249.9,303.1 248.7,303.0 247.4,302.9 C246.2,302.8 244.9,302.7 243.7,302.6 C242.4,302.4 241.1,302.3 239.9,302.2 C238.6,302.0 237.4,301.9 236.1,301.7 C234.9,301.6 233.7,301.4 232.4,301.2 C231.2,301.1 229.9,300.9 228.7,300.7 C227.4,300.6 226.2,300.4 224.9,300.2 C223.7,300.0 222.4,299.8 221.2,299.6 C220.0,299.4 218.7,299.2 217.5,299.0 C216.2,298.8 215.0,298.6 213.8,298.3 C212.5,298.1 211.3,297.9 210.0,297.6 C208.8,297.4 207.6,297.1 206.4,296.9 C205.1,296.6 203.9,296.3 202.7,296.0 C201.4,295.8 200.2,295.5 199.0,295.2 C197.8,294.8 196.6,294.5 195.3,294.2 C194.1,293.9 192.9,293.6 191.7,293.2 C190.5,292.9 189.3,292.5 188.1,292.2 C186.9,291.8 185.7,291.5 184.5,291.1 C183.3,290.7 182.1,290.4 180.9,290.0 C179.7,289.6 178.5,289.2 177.3,288.8 C176.1,288.4 174.9,288.0 173.7,287.5 C172.5,287.1 171.4,286.7 170.2,286.2 C169.0,285.8 167.8,285.3 166.7,284.8 C165.5,284.3 164.4,283.8 163.2,283.3 C162.1,282.8 160.9,282.3 159.8,281.8 C158.6,281.3 157.5,280.7 156.4,280.2 C155.2,279.6 154.1,279.1 153.0,278.5 C151.9,277.9 150.8,277.3 149.7,276.7 C148.6,276.1 147.5,275.5 146.4,274.8 C145.4,274.2 144.3,273.5 143.2,272.8 C142.2,272.1 141.2,271.4 140.1,270.7 C139.1,269.9 138.1,269.2 137.1,268.5 C136.1,267.7 135.1,267.0 134.1,266.2 C133.1,265.4 132.1,264.6 131.1,263.9 C130.1,263.1 129.1,262.3 128.1,261.5 C127.2,260.7 126.2,259.9 125.2,259.1 C124.3,258.3 123.3,257.5 122.4,256.6 C121.5,255.8 120.6,254.9 119.7,254.0 C118.9,253.1 118.0,252.2 117.2,251.2 C116.4,250.3 115.6,249.3 114.9,248.3 C114.1,247.3 113.4,246.3 112.7,245.2 C112.0,244.2 111.3,243.1 110.7,242.1 C110.0,241.0 109.4,239.9 108.7,238.8 C108.1,237.8 107.5,236.7 106.9,235.6 C106.2,234.5 105.6,233.4 105.1,232.3 C104.5,231.2 103.9,230.0 103.3,228.9 C102.8,227.8 102.2,226.7 101.7,225.5 C101.2,224.4 100.7,223.2 100.2,222.1 C99.8,220.9 99.3,219.7 98.9,218.5 C98.4,217.4 98.0,216.2 97.6,215.0 C97.2,213.8 96.8,212.6 96.5,211.4 C96.1,210.2 95.8,209.0 95.5,207.8 C95.2,206.6 94.9,205.3 94.6,204.1 C94.3,202.9 94.1,201.7 93.9,200.4 C93.7,199.2 93.5,197.9 93.3,196.7 C93.2,195.5 93.1,194.2 93.0,193.0 C92.9,191.7 92.9,190.5 92.9,189.2 C92.9,188.0 92.9,186.7 93.0,185.5 C93.0,184.2 93.1,183.0 93.2,181.7 C93.3,180.5 93.5,179.2 93.6,178.0 C93.8,176.7 93.9,175.5 94.1,174.2 C94.3,173.0 94.5,171.7 94.7,170.5 C94.9,169.3 95.1,168.0 95.3,166.8 C95.6,165.6 95.9,164.3 96.1,163.1 C96.4,161.9 96.7,160.7 97.1,159.4 C97.4,158.2 97.7,157.0 98.1,155.8 C98.5,154.6 98.9,153.4 99.3,152.3 C99.7,151.1 100.2,149.9 100.6,148.7 C101.1,147.6 101.6,146.4 102.1,145.3 C102.7,144.2 103.2,143.0 103.8,141.9 C104.4,140.8 105.0,139.7 105.6,138.6 C106.2,137.5 106.8,136.4 107.4,135.3 C108.0,134.2 108.6,133.1 109.3,132.0 C109.9,130.9 110.5,129.9 111.2,128.8 C111.8,127.7 112.4,126.6 113.1,125.5 C113.7,124.4 114.3,123.3 115.0,122.2 C115.6,121.2 116.3,120.1 116.9,119.0 C117.5,117.9 118.2,116.8 118.8,115.7 C119.5,114.7 120.1,113.6 120.8,112.5 C121.4,111.4 122.1,110.4 122.7,109.3 C123.4,108.2 124.0,107.1 124.7,106.1 C125.3,105.0 126.0,103.9 126.7,102.9 C127.4,101.8 128.1,100.7 128.7,99.7 C129.4,98.6 130.1,97.6 130.8,96.5 C131.5,95.5 132.2,94.5 132.9,93.4 C133.6,92.4 134.3,91.3 135.0,90.3 C135.7,89.2 136.4,88.2 137.1,87.1 C137.8,86.1 138.5,85.0 139.2,84.0 C139.9,83.0 140.7,82.0 141.4,81.0 C142.2,80.0 143.0,79.1 143.8,78.1 C144.6,77.2 145.5,76.3 146.4,75.4 C147.2,74.5 148.1,73.6 149.0,72.7 C149.9,71.8 150.8,70.9 151.7,70.0 C152.6,69.1 153.5,68.3 154.4,67.4 C155.3,66.5 156.2,65.6 157.1,64.7 C158.0,63.9 158.9,63.0 159.8,62.1 C160.7,61.3 161.6,60.4 162.5,59.5 C163.5,58.7 164.4,57.8 165.3,57.0 C166.3,56.2 167.2,55.3 168.2,54.5 C169.1,53.7 170.1,52.9 171.1,52.1 C172.1,51.3 173.1,50.6 174.1,49.8 C175.1,49.0 176.1,48.3 177.1,47.6 C178.1,46.8 179.1,46.1 180.2,45.4 C181.2,44.7 182.2,44.0 183.3,43.3 C184.3,42.6 185.4,41.9 186.5,41.3 C187.5,40.6 188.6,40.0 189.7,39.3 C190.8,38.7 191.9,38.1 193.0,37.5 C194.1,36.9 195.2,36.3 196.3,35.7 C197.4,35.1 198.5,34.5 199.6,33.9 C200.8,33.4 201.9,32.8 203.0,32.3 C204.2,31.7 205.3,31.2 206.4,30.6 C207.6,30.1 208.7,29.6 209.9,29.1 C211.0,28.6 212.2,28.1 213.4,27.6 C214.5,27.1 215.7,26.6 216.8,26.2 C218.0,25.7 219.2,25.2 220.3,24.8 C221.5,24.3 222.7,23.9 223.9,23.4 C225.0,23.0 226.2,22.6 227.4,22.1 C228.6,21.7 229.8,21.3 231.0,21.0 C232.2,20.6 233.4,20.2 234.6,19.9 C235.8,19.6 237.0,19.2 238.3,18.9 C239.5,18.6 240.7,18.3 241.9,18.0 C243.1,17.8 244.4,17.5 245.6,17.3 C246.8,17.0 248.1,16.8 249.3,16.6 C250.6,16.4 251.8,16.2 253.0,16.1 C254.3,15.9 255.5,15.8 256.8,15.7 C258.0,15.6 259.3,15.5 260.5,15.5Z" fill="none" stroke="#b8906c" stroke-width="9" filter="url(#b2)" opacity="0.5"/></g>
</g></g>
<g clip-path="url(#cr)">
<rect x="440" y="110" width="410" height="200" fill="url(#gr)"/>
<ellipse cx="0" cy="0" rx="80" ry="25" fill="url(#spotr)" transform="translate(530,213) rotate(-48)"/>
<ellipse cx="0" cy="0" rx="80" ry="25" fill="url(#spotr)" transform="translate(768,214) rotate(50)"/>
<ellipse cx="655" cy="245" rx="120" ry="55" fill="#fdd49e" opacity="0.35" filter="url(#b14)"/>
<ellipse cx="632" cy="166" rx="66" ry="50" fill="url(#hl)" opacity="0.75"/>
<path d="M446.8,277.5 C446.7,276.8 446.9,276.1 447.1,275.4 C447.3,274.7 447.7,274.0 448.1,273.4 C448.4,272.7 448.9,272.1 449.3,271.5 C449.8,270.9 450.3,270.3 450.9,269.7 C451.4,269.2 452.0,268.7 452.5,268.1 C453.1,267.6 453.6,267.0 454.2,266.5 C454.7,265.9 455.3,265.4 455.8,264.8 C456.3,264.3 456.9,263.7 457.4,263.1 C457.9,262.6 458.4,262.0 459.0,261.4 C459.5,260.8 460.0,260.3 460.5,259.7 C461.1,259.1 461.6,258.6 462.1,258.0 C462.6,257.4 463.2,256.9 463.7,256.3 C464.2,255.7 464.7,255.1 465.3,254.6 C465.8,254.0 466.3,253.4 466.8,252.8 C467.3,252.2 467.8,251.7 468.4,251.1 C468.9,250.5 469.4,249.9 469.9,249.4 C470.4,248.8 470.9,248.2 471.5,247.6 C472.0,247.0 472.5,246.5 473.0,245.9 C473.5,245.3 474.0,244.7 474.5,244.1 C475.1,243.6 475.6,243.0 476.1,242.4 C476.6,241.8 477.1,241.2 477.6,240.7 C478.1,240.1 478.6,239.5 479.2,238.9 C479.7,238.3 480.2,237.7 480.7,237.2 C481.2,236.6 481.7,236.0 482.2,235.4 C482.7,234.8 483.3,234.3 483.8,233.7 C484.3,233.1 484.8,232.5 485.3,231.9 C485.8,231.3 486.3,230.8 486.9,230.2 C487.4,229.6 487.9,229.0 488.4,228.5 C488.9,227.9 489.5,227.3 490.0,226.8 C490.5,226.2 491.1,225.6 491.6,225.1 C492.1,224.5 492.6,223.9 493.2,223.4 C493.7,222.8 494.2,222.2 494.7,221.6 C495.3,221.1 495.8,220.5 496.3,219.9 C496.9,219.4 497.4,218.8 497.9,218.2 C498.4,217.7 499.0,217.1 499.5,216.5 C500.0,215.9 500.5,215.4 501.0,214.8 C501.6,214.2 502.1,213.6 502.6,213.1 C503.1,212.5 503.6,211.9 504.1,211.3 C504.7,210.7 505.2,210.2 505.7,209.6 C506.2,209.0 506.7,208.4 507.2,207.9 C507.8,207.3 508.3,206.7 508.8,206.1 C509.3,205.5 509.8,205.0 510.3,204.4 C510.9,203.8 511.4,203.2 511.9,202.7 C512.4,202.1 512.9,201.5 513.5,200.9 C514.0,200.4 514.5,199.8 515.0,199.2 C515.5,198.6 516.1,198.1 516.6,197.5 C517.1,196.9 517.6,196.4 518.2,195.8 C518.7,195.2 519.2,194.7 519.8,194.1 C520.3,193.5 520.8,193.0 521.4,192.4 C521.9,191.8 522.4,191.3 523.0,190.7 C523.5,190.2 524.0,189.6 524.6,189.0 C525.1,188.5 525.6,187.9 526.2,187.4 C526.7,186.8 527.3,186.3 527.9,185.7 C528.4,185.2 529.0,184.7 529.5,184.1 C530.1,183.6 530.7,183.1 531.2,182.6 C531.8,182.0 532.4,181.5 532.9,181.0 C533.5,180.4 534.1,179.9 534.6,179.4 C535.2,178.8 535.8,178.3 536.3,177.8 C536.9,177.3 537.5,176.8 538.1,176.2 C538.7,175.7 539.2,175.2 539.8,174.7 C540.4,174.2 541.0,173.7 541.6,173.2 C542.1,172.7 542.7,172.1 543.3,171.6 C543.9,171.1 544.5,170.6 545.1,170.1 C545.6,169.6 546.2,169.1 546.8,168.6 C547.4,168.1 548.0,167.6 548.7,167.2 C549.3,166.7 549.9,166.3 550.5,165.8 C551.2,165.4 551.8,164.9 552.5,164.5 C553.1,164.1 553.8,163.7 554.4,163.2 C555.1,162.8 555.7,162.4 556.3,161.9 C557.0,161.5 557.6,161.1 558.3,160.6 C558.9,160.2 559.6,159.8 560.2,159.3 C560.8,158.9 561.5,158.5 562.1,158.0 C562.8,157.6 563.4,157.1 564.0,156.7 C564.7,156.2 565.3,155.8 565.9,155.3 C566.6,154.9 567.2,154.5 567.8,154.0 C568.5,153.6 569.1,153.1 569.8,152.7 C570.4,152.3 571.1,151.9 571.7,151.5 C572.4,151.1 573.0,150.7 573.7,150.2 C574.4,149.8 575.0,149.4 575.7,149.0 C576.4,148.6 577.0,148.2 577.7,147.8 C578.3,147.4 579.0,147.0 579.7,146.7 C580.4,146.3 581.0,145.9 581.7,145.6 C582.4,145.2 583.1,144.9 583.8,144.6 C584.5,144.2 585.2,143.9 586.0,143.6 C586.7,143.3 587.4,143.0 588.1,142.7 C588.8,142.4 589.5,142.0 590.2,141.7 C590.9,141.4 591.6,141.1 592.4,140.8 C593.1,140.5 593.8,140.3 594.5,140.0 C595.2,139.7 596.0,139.4 596.7,139.2 C597.4,138.9 598.2,138.7 598.9,138.4 C599.6,138.1 600.3,137.9 601.1,137.6 C601.8,137.3 602.5,137.1 603.3,136.8 C604.0,136.5 604.7,136.3 605.4,136.0 C606.2,135.7 606.9,135.5 607.6,135.2 C608.3,134.9 609.1,134.6 609.8,134.4 C610.5,134.1 611.2,133.8 612.0,133.5 C612.7,133.3 613.4,133.0 614.1,132.7 C614.9,132.5 615.6,132.2 616.3,132.0 C617.1,131.7 617.8,131.5 618.6,131.3 C619.3,131.1 620.1,130.9 620.8,130.7 C621.6,130.5 622.3,130.3 623.1,130.1 C623.8,129.9 624.6,129.7 625.3,129.4 C626.0,129.2 626.8,129.0 627.5,128.7 C628.2,128.5 629.0,128.2 629.7,127.9 C630.3,127.6 631.0,127.2 631.7,126.8 C632.3,126.4 632.9,125.9 633.5,125.5 C634.1,125.0 634.7,124.5 635.3,124.0 C635.9,123.5 636.5,123.0 637.1,122.6 C637.8,122.1 638.4,121.7 639.1,121.4 C639.8,121.0 640.5,120.7 641.2,120.5 C641.9,120.2 642.7,120.0 643.4,119.9 C644.2,119.7 645.0,119.6 645.7,119.5 C646.5,119.5 647.3,119.4 648.0,119.5 C648.8,119.5 649.6,119.5 650.3,119.6 C651.1,119.8 651.8,119.9 652.6,120.1 C653.3,120.3 654.0,120.6 654.7,120.9 C655.4,121.2 656.1,121.6 656.7,122.0 C657.3,122.5 657.9,122.9 658.5,123.4 C659.1,123.9 659.7,124.4 660.3,124.9 C660.9,125.4 661.5,125.9 662.2,126.3 C662.8,126.8 663.4,127.2 664.1,127.5 C664.8,127.9 665.5,128.1 666.2,128.4 C666.9,128.7 667.7,128.9 668.4,129.2 C669.1,129.4 669.9,129.7 670.6,129.9 C671.4,130.1 672.1,130.4 672.8,130.6 C673.6,130.9 674.3,131.2 675.0,131.4 C675.8,131.7 676.5,131.9 677.2,132.2 C678.0,132.4 678.7,132.7 679.4,132.9 C680.2,133.2 680.9,133.4 681.6,133.7 C682.4,133.9 683.1,134.2 683.8,134.4 C684.5,134.7 685.3,134.9 686.0,135.2 C686.7,135.5 687.4,135.8 688.1,136.1 C688.9,136.4 689.6,136.7 690.3,137.1 C691.0,137.4 691.7,137.7 692.4,138.1 C693.1,138.4 693.8,138.7 694.5,139.1 C695.2,139.4 695.9,139.7 696.6,140.1 C697.3,140.4 698.0,140.7 698.7,141.1 C699.4,141.4 700.1,141.7 700.8,142.1 C701.5,142.4 702.2,142.7 702.9,143.1 C703.6,143.4 704.3,143.7 705.0,144.1 C705.7,144.4 706.4,144.7 707.1,145.1 C707.7,145.4 708.4,145.8 709.1,146.2 C709.8,146.5 710.5,146.9 711.2,147.3 C711.8,147.7 712.5,148.1 713.2,148.5 C713.8,148.8 714.5,149.2 715.2,149.6 C715.8,150.0 716.5,150.4 717.2,150.8 C717.8,151.2 718.5,151.6 719.2,152.0 C719.8,152.4 720.5,152.8 721.2,153.2 C721.8,153.6 722.5,154.0 723.2,154.4 C723.8,154.8 724.5,155.1 725.2,155.5 C725.8,155.9 726.5,156.3 727.2,156.8 C727.8,157.2 728.5,157.6 729.1,158.0 C729.7,158.5 730.4,158.9 731.0,159.4 C731.6,159.8 732.2,160.3 732.9,160.8 C733.5,161.2 734.1,161.7 734.7,162.2 C735.3,162.6 736.0,163.1 736.6,163.6 C737.2,164.0 737.8,164.5 738.4,165.0 C739.1,165.4 739.7,165.9 740.3,166.4 C740.9,166.8 741.5,167.3 742.2,167.8 C742.8,168.2 743.4,168.7 744.0,169.2 C744.6,169.6 745.3,170.1 745.9,170.6 C746.5,171.0 747.1,171.5 747.7,172.0 C748.3,172.5 748.9,173.0 749.5,173.5 C750.1,174.0 750.7,174.5 751.3,175.0 C751.9,175.5 752.4,176.0 753.0,176.5 C753.6,177.0 754.2,177.5 754.8,178.0 C755.4,178.5 756.0,179.0 756.6,179.5 C757.1,180.0 757.7,180.5 758.3,181.0 C758.9,181.5 759.5,182.1 760.1,182.6 C760.7,183.1 761.3,183.6 761.9,184.1 C762.4,184.6 763.0,185.1 763.6,185.6 C764.2,186.1 764.8,186.6 765.4,187.1 C765.9,187.6 766.5,188.2 767.1,188.7 C767.6,189.2 768.2,189.8 768.7,190.3 C769.3,190.9 769.8,191.4 770.4,192.0 C770.9,192.5 771.4,193.1 772.0,193.7 C772.5,194.2 773.1,194.8 773.6,195.3 C774.1,195.9 774.7,196.4 775.2,197.0 C775.7,197.6 776.3,198.1 776.8,198.7 C777.4,199.2 777.9,199.8 778.4,200.4 C779.0,200.9 779.5,201.5 780.1,202.0 C780.6,202.6 781.1,203.1 781.7,203.7 C782.2,204.3 782.7,204.8 783.3,205.4 C783.8,205.9 784.4,206.5 784.9,207.1 C785.4,207.6 786.0,208.2 786.5,208.7 C787.0,209.3 787.6,209.9 788.1,210.4 C788.6,211.0 789.1,211.6 789.7,212.2 C790.2,212.7 790.7,213.3 791.2,213.9 C791.8,214.4 792.3,215.0 792.8,215.6 C793.3,216.1 793.9,216.7 794.4,217.3 C794.9,217.9 795.4,218.4 796.0,219.0 C796.5,219.6 797.0,220.1 797.5,220.7 C798.0,221.3 798.6,221.9 799.1,222.4 C799.6,223.0 800.1,223.6 800.7,224.1 C801.2,224.7 801.7,225.3 802.2,225.9 C802.8,226.4 803.3,227.0 803.8,227.6 C804.3,228.1 804.9,228.7 805.4,229.3 C805.9,229.9 806.4,230.5 806.9,231.0 C807.4,231.6 807.9,232.2 808.4,232.8 C808.9,233.4 809.4,234.0 809.9,234.6 C810.5,235.2 811.0,235.7 811.5,236.3 C812.0,236.9 812.5,237.5 813.0,238.1 C813.5,238.7 814.0,239.3 814.5,239.9 C815.0,240.5 815.5,241.0 816.0,241.6 C816.5,242.2 817.0,242.8 817.5,243.4 C818.0,244.0 818.5,244.6 819.0,245.2 C819.5,245.7 820.0,246.3 820.5,246.9 C821.1,247.5 821.6,248.1 822.1,248.7 C822.6,249.3 823.1,249.9 823.6,250.5 C824.1,251.1 824.6,251.6 825.1,252.2 C825.6,252.8 826.1,253.4 826.5,254.0 C827.0,254.6 827.5,255.2 828.0,255.8 C828.5,256.4 829.0,257.1 829.5,257.7 C830.0,258.3 830.4,258.9 830.9,259.5 C831.4,260.1 831.9,260.7 832.4,261.3 C832.9,261.9 833.4,262.5 833.8,263.1 C834.3,263.7 834.8,264.3 835.2,265.0 C835.7,265.6 836.1,266.2 836.5,266.9 C837.0,267.5 837.4,268.2 837.8,268.8 C838.2,269.5 838.6,270.1 839.0,270.8 C839.4,271.5 839.8,272.1 840.2,272.8 C840.5,273.5 840.9,274.2 841.2,274.9 C841.5,275.6 841.7,276.3 842.0,277.1 C842.2,277.8 842.4,278.5 842.4,279.3 C842.5,280.0 842.5,280.7 842.4,281.5 C842.3,282.2 842.1,283.0 841.9,283.6 C841.6,284.3 841.3,285.0 840.8,285.6 C840.4,286.1 839.9,286.7 839.3,287.1 C838.7,287.6 838.1,288.1 837.4,288.5 C836.8,288.9 836.1,289.3 835.5,289.6 C834.8,290.0 834.0,290.2 833.3,290.5 C832.6,290.7 831.8,290.9 831.1,291.1 C830.3,291.3 829.6,291.5 828.8,291.7 C828.1,291.9 827.3,292.1 826.6,292.3 C825.8,292.5 825.1,292.7 824.3,292.9 C823.6,293.0 822.8,293.2 822.1,293.3 C821.3,293.5 820.5,293.6 819.8,293.7 C819.0,293.9 818.2,294.0 817.5,294.1 C816.7,294.2 815.9,294.3 815.2,294.5 C814.4,294.6 813.6,294.7 812.9,294.8 C812.1,294.9 811.3,295.0 810.6,295.2 C809.8,295.3 809.0,295.4 808.3,295.5 C807.5,295.6 806.7,295.7 806.0,295.8 C805.2,295.9 804.4,296.0 803.7,296.1 C802.9,296.2 802.1,296.3 801.4,296.4 C800.6,296.5 799.8,296.6 799.1,296.7 C798.3,296.8 797.5,296.9 796.8,297.0 C796.0,297.1 795.2,297.2 794.4,297.3 C793.7,297.4 792.9,297.5 792.1,297.6 C791.4,297.7 790.6,297.8 789.8,297.8 C789.1,297.9 788.3,298.0 787.5,298.1 C786.7,298.2 786.0,298.3 785.2,298.3 C784.4,298.4 783.7,298.5 782.9,298.6 C782.1,298.7 781.3,298.7 780.6,298.8 C779.8,298.9 779.0,299.0 778.3,299.1 C777.5,299.1 776.7,299.2 775.9,299.3 C775.2,299.4 774.4,299.5 773.6,299.5 C772.9,299.6 772.1,299.7 771.3,299.8 C770.5,299.9 769.8,299.9 769.0,300.0 C768.2,300.1 767.5,300.2 766.7,300.3 C765.9,300.3 765.1,300.4 764.4,300.5 C763.6,300.6 762.8,300.7 762.1,300.7 C761.3,300.8 760.5,300.9 759.7,301.0 C759.0,301.0 758.2,301.1 757.4,301.2 C756.7,301.2 755.9,301.3 755.1,301.3 C754.3,301.4 753.6,301.4 752.8,301.4 C752.0,301.5 751.2,301.5 750.5,301.5 C749.7,301.6 748.9,301.6 748.1,301.7 C747.4,301.7 746.6,301.7 745.8,301.8 C745.0,301.8 744.3,301.9 743.5,301.9 C742.7,301.9 741.9,302.0 741.2,302.0 C740.4,302.0 739.6,302.1 738.8,302.1 C738.1,302.2 737.3,302.2 736.5,302.2 C735.8,302.3 735.0,302.3 734.2,302.3 C733.4,302.4 732.7,302.4 731.9,302.5 C731.1,302.5 730.3,302.5 729.6,302.6 C728.8,302.6 728.0,302.6 727.2,302.7 C726.5,302.7 725.7,302.8 724.9,302.8 C724.1,302.8 723.4,302.9 722.6,302.9 C721.8,303.0 721.0,303.0 720.3,303.0 C719.5,303.1 718.7,303.1 717.9,303.1 C717.2,303.2 716.4,303.2 715.6,303.3 C714.8,303.3 714.1,303.3 713.3,303.4 C712.5,303.4 711.7,303.4 711.0,303.5 C710.2,303.5 709.4,303.5 708.6,303.5 C707.9,303.5 707.1,303.6 706.3,303.6 C705.5,303.6 704.8,303.6 704.0,303.6 C703.2,303.6 702.4,303.6 701.7,303.7 C700.9,303.7 700.1,303.7 699.3,303.7 C698.6,303.7 697.8,303.7 697.0,303.7 C696.2,303.7 695.5,303.8 694.7,303.8 C693.9,303.8 693.1,303.8 692.4,303.8 C691.6,303.8 690.8,303.8 690.0,303.8 C689.3,303.9 688.5,303.9 687.7,303.9 C686.9,303.9 686.2,303.9 685.4,303.9 C684.6,303.9 683.8,304.0 683.1,304.0 C682.3,304.0 681.5,304.0 680.7,304.0 C680.0,304.0 679.2,304.0 678.4,304.0 C677.6,304.1 676.9,304.1 676.1,304.1 C675.3,304.1 674.5,304.1 673.8,304.1 C673.0,304.1 672.2,304.2 671.4,304.2 C670.7,304.2 669.9,304.2 669.1,304.2 C668.3,304.2 667.6,304.2 666.8,304.2 C666.0,304.3 665.2,304.3 664.5,304.3 C663.7,304.3 662.9,304.3 662.1,304.3 C661.4,304.3 660.6,304.3 659.8,304.3 C659.0,304.3 658.3,304.3 657.5,304.3 C656.7,304.3 655.9,304.3 655.2,304.2 C654.4,304.2 653.6,304.2 652.8,304.2 C652.1,304.2 651.3,304.2 650.5,304.2 C649.7,304.2 649.0,304.2 648.2,304.2 C647.4,304.1 646.6,304.1 645.9,304.1 C645.1,304.1 644.3,304.0 643.5,304.0 C642.8,303.9 642.0,303.9 641.2,303.9 C640.4,303.8 639.7,303.8 638.9,303.8 C638.1,303.7 637.3,303.7 636.6,303.7 C635.8,303.6 635.0,303.6 634.2,303.5 C633.5,303.5 632.7,303.5 631.9,303.4 C631.1,303.4 630.4,303.4 629.6,303.3 C628.8,303.3 628.0,303.2 627.3,303.2 C626.5,303.2 625.7,303.1 624.9,303.1 C624.2,303.1 623.4,303.0 622.6,303.0 C621.8,303.0 621.1,303.0 620.3,302.9 C619.5,302.9 618.7,302.9 618.0,302.9 C617.2,302.8 616.4,302.8 615.6,302.8 C614.9,302.8 614.1,302.8 613.3,302.7 C612.5,302.7 611.8,302.7 611.0,302.7 C610.2,302.7 609.4,302.6 608.7,302.6 C607.9,302.6 607.1,302.6 606.3,302.6 C605.6,302.5 604.8,302.5 604.0,302.5 C603.2,302.5 602.5,302.5 601.7,302.4 C600.9,302.4 600.1,302.4 599.4,302.4 C598.6,302.3 597.8,302.3 597.0,302.2 C596.3,302.2 595.5,302.2 594.7,302.1 C593.9,302.1 593.2,302.1 592.4,302.0 C591.6,302.0 590.9,301.9 590.1,301.9 C589.3,301.9 588.5,301.8 587.8,301.8 C587.0,301.7 586.2,301.7 585.4,301.7 C584.7,301.6 583.9,301.6 583.1,301.6 C582.3,301.5 581.6,301.5 580.8,301.4 C580.0,301.4 579.2,301.4 578.5,301.3 C577.7,301.3 576.9,301.2 576.1,301.2 C575.4,301.2 574.6,301.1 573.8,301.1 C573.0,301.0 572.3,301.0 571.5,301.0 C570.7,300.9 569.9,300.9 569.2,300.8 C568.4,300.8 567.6,300.8 566.8,300.7 C566.1,300.7 565.3,300.7 564.5,300.6 C563.7,300.6 563.0,300.5 562.2,300.5 C561.4,300.5 560.7,300.4 559.9,300.4 C559.1,300.3 558.3,300.3 557.6,300.3 C556.8,300.2 556.0,300.2 555.2,300.1 C554.5,300.1 553.7,300.0 552.9,300.0 C552.1,299.9 551.4,299.9 550.6,299.8 C549.8,299.7 549.1,299.6 548.3,299.6 C547.5,299.5 546.7,299.4 546.0,299.3 C545.2,299.2 544.4,299.2 543.7,299.1 C542.9,299.0 542.1,298.9 541.3,298.9 C540.6,298.8 539.8,298.7 539.0,298.6 C538.3,298.5 537.5,298.5 536.7,298.4 C535.9,298.3 535.2,298.2 534.4,298.1 C533.6,298.1 532.9,298.0 532.1,297.9 C531.3,297.8 530.5,297.8 529.8,297.7 C529.0,297.6 528.2,297.5 527.5,297.4 C526.7,297.3 525.9,297.2 525.1,297.1 C524.4,297.0 523.6,297.0 522.8,296.9 C522.1,296.8 521.3,296.7 520.5,296.6 C519.8,296.5 519.0,296.4 518.2,296.3 C517.4,296.2 516.7,296.1 515.9,296.0 C515.1,295.9 514.4,295.8 513.6,295.8 C512.8,295.7 512.1,295.6 511.3,295.5 C510.5,295.4 509.7,295.3 509.0,295.2 C508.2,295.1 507.4,295.0 506.7,294.9 C505.9,294.8 505.1,294.7 504.4,294.6 C503.6,294.5 502.8,294.4 502.1,294.3 C501.3,294.2 500.5,294.1 499.8,294.0 C499.0,293.9 498.2,293.8 497.5,293.6 C496.7,293.5 495.9,293.4 495.2,293.3 C494.4,293.2 493.6,293.1 492.9,293.0 C492.1,292.9 491.3,292.8 490.5,292.7 C489.8,292.5 489.0,292.4 488.2,292.3 C487.5,292.2 486.7,292.1 485.9,292.0 C485.2,291.9 484.4,291.8 483.6,291.7 C482.9,291.6 482.1,291.4 481.3,291.3 C480.6,291.2 479.8,291.1 479.0,290.9 C478.3,290.8 477.5,290.7 476.8,290.5 C476.0,290.4 475.2,290.3 474.5,290.1 C473.7,290.0 472.9,289.9 472.2,289.7 C471.4,289.6 470.6,289.5 469.9,289.3 C469.1,289.2 468.4,289.1 467.6,288.9 C466.8,288.8 466.1,288.6 465.3,288.5 C464.6,288.3 463.8,288.1 463.1,287.9 C462.3,287.7 461.6,287.5 460.8,287.2 C460.1,287.0 459.4,286.8 458.6,286.5 C457.9,286.3 457.2,286.0 456.4,285.7 C455.7,285.5 455.0,285.2 454.3,284.9 C453.6,284.6 452.9,284.3 452.2,283.9 C451.5,283.6 450.8,283.2 450.2,282.8 C449.6,282.3 449.1,281.8 448.6,281.3 C448.1,280.7 447.7,280.1 447.4,279.5 C447.1,278.8 446.8,278.1 446.8,277.5Z" fill="none" stroke="#fbe3c8" stroke-width="8" filter="url(#b4)" opacity="0.5"/>
<linearGradient id="ribfade" gradientUnits="userSpaceOnUse" x1="0" y1="245" x2="0" y2="300"><stop offset="0" stop-color="#fff" stop-opacity="0"/><stop offset="0.6" stop-color="#fff" stop-opacity="1"/><stop offset="1" stop-color="#fff" stop-opacity="0.6"/></linearGradient>
<mask id="mrib" maskUnits="userSpaceOnUse" x="0" y="0" width="935" height="375"><rect x="0" y="0" width="935" height="375" fill="url(#ribfade)"/></mask>
<g mask="url(#mrib)"><g stroke="#e6a462" stroke-width="2" fill="none" opacity="0.28" filter="url(#b1)">
<path d="M455.6,284.0 Q467.5,276.6 476.8,266.2"/>
<path d="M461.0,285.8 Q472.1,278.7 480.5,268.6"/>
<path d="M465.3,287.0 Q477.8,278.1 487.7,266.3"/>
<path d="M468.7,287.6 Q481.8,277.8 492.0,265.1"/>
<path d="M473.3,288.4 Q485.5,278.9 494.9,266.5"/>
<path d="M478.0,289.3 Q488.0,281.5 495.0,271.0"/>
<path d="M483.4,290.1 Q496.9,278.0 507.4,263.3"/>
<path d="M487.3,290.7 Q497.3,282.0 504.3,270.7"/>
<path d="M493.1,291.5 Q506.2,278.5 516.2,262.9"/>
<path d="M497.6,292.2 Q507.7,282.2 514.7,269.9"/>
<path d="M503.1,293.0 Q511.4,285.0 516.5,274.7"/>
<path d="M507.5,293.5 Q516.4,284.1 522.1,272.4"/>
<path d="M510.3,293.9 Q518.3,285.4 523.0,274.8"/>
<path d="M515.3,294.5 Q525.6,281.9 532.5,267.1"/>
<path d="M519.6,295.0 Q528.6,283.7 534.2,270.4"/>
<path d="M525.3,295.7 Q533.3,285.6 537.7,273.6"/>
<path d="M529.7,296.2 Q536.3,287.9 539.4,277.9"/>
<path d="M533.1,296.5 Q539.9,287.5 543.1,276.6"/>
<path d="M539.2,297.1 Q546.3,286.8 549.8,274.8"/>
<path d="M543.0,297.5 Q550.1,286.3 553.6,273.5"/>
<path d="M547.9,298.0 Q554.0,288.5 556.4,277.4"/>
<path d="M553.3,298.5 Q560.0,286.8 562.9,273.6"/>
<path d="M556.6,298.7 Q562.6,287.7 564.9,275.4"/>
<path d="M561.9,299.0 Q568.1,286.4 570.6,272.5"/>
<path d="M567.0,299.2 Q571.9,290.0 572.9,279.6"/>
<path d="M572.2,299.5 Q576.5,291.2 577.0,281.9"/>
<path d="M575.4,299.7 Q580.4,288.1 581.5,275.5"/>
<path d="M579.4,299.9 Q583.7,289.8 584.1,278.8"/>
<path d="M583.7,300.1 Q587.9,289.2 588.2,277.5"/>
<path d="M590.0,300.4 Q593.9,290.1 593.8,279.2"/>
<path d="M839.9,285.3 Q828.1,278.0 818.8,267.6"/>
<path d="M834.9,288.6 Q821.8,279.6 811.5,267.7"/>
<path d="M830.0,289.9 Q818.2,281.4 809.1,270.0"/>
<path d="M826.0,290.9 Q812.1,279.7 801.1,265.7"/>
<path d="M820.5,292.1 Q808.6,282.2 799.5,269.4"/>
<path d="M814.9,293.0 Q803.3,282.6 794.7,269.6"/>
<path d="M811.8,293.5 Q799.3,281.4 790.0,266.7"/>
<path d="M807.6,294.1 Q798.6,285.7 792.9,274.8"/>
<path d="M801.9,294.9 Q791.9,284.2 785.1,271.3"/>
<path d="M796.5,295.5 Q787.6,285.9 782.1,274.1"/>
<path d="M792.2,296.1 Q785.0,288.3 781.2,278.3"/>
<path d="M787.3,296.6 Q778.4,285.2 772.9,271.7"/>
<path d="M782.9,297.1 Q776.0,288.4 772.6,277.9"/>
<path d="M778.9,297.5 Q770.7,285.4 766.0,271.5"/>
<path d="M773.6,298.0 Q766.9,288.3 763.8,276.8"/>
<path d="M770.1,298.4 Q762.8,286.3 759.2,272.6"/>
<path d="M766.2,298.8 Q759.4,286.8 756.4,273.3"/>
<path d="M760.3,299.4 Q754.8,289.9 753.1,279.0"/>
<path d="M755.9,299.8 Q750.0,287.8 747.9,274.6"/>
<path d="M752.7,299.9 Q748.4,291.8 747.9,282.7"/>
<path d="M746.2,300.3 Q742.1,291.8 741.8,282.4"/>
<path d="M741.8,300.5 Q737.7,290.8 737.5,280.3"/>
</g><g stroke="#fee6c4" stroke-width="1.8" fill="none" opacity="0.5" filter="url(#b1)" transform="translate(2.4,0)">
<path d="M455.6,284.0 Q467.5,276.6 476.8,266.2"/>
<path d="M461.0,285.8 Q472.1,278.7 480.5,268.6"/>
<path d="M465.3,287.0 Q477.8,278.1 487.7,266.3"/>
<path d="M468.7,287.6 Q481.8,277.8 492.0,265.1"/>
<path d="M473.3,288.4 Q485.5,278.9 494.9,266.5"/>
<path d="M478.0,289.3 Q488.0,281.5 495.0,271.0"/>
<path d="M483.4,290.1 Q496.9,278.0 507.4,263.3"/>
<path d="M487.3,290.7 Q497.3,282.0 504.3,270.7"/>
<path d="M493.1,291.5 Q506.2,278.5 516.2,262.9"/>
<path d="M497.6,292.2 Q507.7,282.2 514.7,269.9"/>
<path d="M503.1,293.0 Q511.4,285.0 516.5,274.7"/>
<path d="M507.5,293.5 Q516.4,284.1 522.1,272.4"/>
<path d="M510.3,293.9 Q518.3,285.4 523.0,274.8"/>
<path d="M515.3,294.5 Q525.6,281.9 532.5,267.1"/>
<path d="M519.6,295.0 Q528.6,283.7 534.2,270.4"/>
<path d="M525.3,295.7 Q533.3,285.6 537.7,273.6"/>
<path d="M529.7,296.2 Q536.3,287.9 539.4,277.9"/>
<path d="M533.1,296.5 Q539.9,287.5 543.1,276.6"/>
<path d="M539.2,297.1 Q546.3,286.8 549.8,274.8"/>
<path d="M543.0,297.5 Q550.1,286.3 553.6,273.5"/>
<path d="M547.9,298.0 Q554.0,288.5 556.4,277.4"/>
<path d="M553.3,298.5 Q560.0,286.8 562.9,273.6"/>
<path d="M556.6,298.7 Q562.6,287.7 564.9,275.4"/>
<path d="M561.9,299.0 Q568.1,286.4 570.6,272.5"/>
<path d="M567.0,299.2 Q571.9,290.0 572.9,279.6"/>
<path d="M572.2,299.5 Q576.5,291.2 577.0,281.9"/>
<path d="M575.4,299.7 Q580.4,288.1 581.5,275.5"/>
<path d="M579.4,299.9 Q583.7,289.8 584.1,278.8"/>
<path d="M583.7,300.1 Q587.9,289.2 588.2,277.5"/>
<path d="M590.0,300.4 Q593.9,290.1 593.8,279.2"/>
<path d="M839.9,285.3 Q828.1,278.0 818.8,267.6"/>
<path d="M834.9,288.6 Q821.8,279.6 811.5,267.7"/>
<path d="M830.0,289.9 Q818.2,281.4 809.1,270.0"/>
<path d="M826.0,290.9 Q812.1,279.7 801.1,265.7"/>
<path d="M820.5,292.1 Q808.6,282.2 799.5,269.4"/>
<path d="M814.9,293.0 Q803.3,282.6 794.7,269.6"/>
<path d="M811.8,293.5 Q799.3,281.4 790.0,266.7"/>
<path d="M807.6,294.1 Q798.6,285.7 792.9,274.8"/>
<path d="M801.9,294.9 Q791.9,284.2 785.1,271.3"/>
<path d="M796.5,295.5 Q787.6,285.9 782.1,274.1"/>
<path d="M792.2,296.1 Q785.0,288.3 781.2,278.3"/>
<path d="M787.3,296.6 Q778.4,285.2 772.9,271.7"/>
<path d="M782.9,297.1 Q776.0,288.4 772.6,277.9"/>
<path d="M778.9,297.5 Q770.7,285.4 766.0,271.5"/>
<path d="M773.6,298.0 Q766.9,288.3 763.8,276.8"/>
<path d="M770.1,298.4 Q762.8,286.3 759.2,272.6"/>
<path d="M766.2,298.8 Q759.4,286.8 756.4,273.3"/>
<path d="M760.3,299.4 Q754.8,289.9 753.1,279.0"/>
<path d="M755.9,299.8 Q750.0,287.8 747.9,274.6"/>
<path d="M752.7,299.9 Q748.4,291.8 747.9,282.7"/>
<path d="M746.2,300.3 Q742.1,291.8 741.8,282.4"/>
<path d="M741.8,300.5 Q737.7,290.8 737.5,280.3"/>
</g></g>
<rect x="440" y="282" width="410" height="25" fill="#fde0bc" opacity="0.35" filter="url(#b4)"/>
</g>
<path d="M446.8,277.5 C446.7,276.8 446.9,276.1 447.1,275.4 C447.3,274.7 447.7,274.0 448.1,273.4 C448.4,272.7 448.9,272.1 449.3,271.5 C449.8,270.9 450.3,270.3 450.9,269.7 C451.4,269.2 452.0,268.7 452.5,268.1 C453.1,267.6 453.6,267.0 454.2,266.5 C454.7,265.9 455.3,265.4 455.8,264.8 C456.3,264.3 456.9,263.7 457.4,263.1 C457.9,262.6 458.4,262.0 459.0,261.4 C459.5,260.8 460.0,260.3 460.5,259.7 C461.1,259.1 461.6,258.6 462.1,258.0 C462.6,257.4 463.2,256.9 463.7,256.3 C464.2,255.7 464.7,255.1 465.3,254.6 C465.8,254.0 466.3,253.4 466.8,252.8 C467.3,252.2 467.8,251.7 468.4,251.1 C468.9,250.5 469.4,249.9 469.9,249.4 C470.4,248.8 470.9,248.2 471.5,247.6 C472.0,247.0 472.5,246.5 473.0,245.9 C473.5,245.3 474.0,244.7 474.5,244.1 C475.1,243.6 475.6,243.0 476.1,242.4 C476.6,241.8 477.1,241.2 477.6,240.7 C478.1,240.1 478.6,239.5 479.2,238.9 C479.7,238.3 480.2,237.7 480.7,237.2 C481.2,236.6 481.7,236.0 482.2,235.4 C482.7,234.8 483.3,234.3 483.8,233.7 C484.3,233.1 484.8,232.5 485.3,231.9 C485.8,231.3 486.3,230.8 486.9,230.2 C487.4,229.6 487.9,229.0 488.4,228.5 C488.9,227.9 489.5,227.3 490.0,226.8 C490.5,226.2 491.1,225.6 491.6,225.1 C492.1,224.5 492.6,223.9 493.2,223.4 C493.7,222.8 494.2,222.2 494.7,221.6 C495.3,221.1 495.8,220.5 496.3,219.9 C496.9,219.4 497.4,218.8 497.9,218.2 C498.4,217.7 499.0,217.1 499.5,216.5 C500.0,215.9 500.5,215.4 501.0,214.8 C501.6,214.2 502.1,213.6 502.6,213.1 C503.1,212.5 503.6,211.9 504.1,211.3 C504.7,210.7 505.2,210.2 505.7,209.6 C506.2,209.0 506.7,208.4 507.2,207.9 C507.8,207.3 508.3,206.7 508.8,206.1 C509.3,205.5 509.8,205.0 510.3,204.4 C510.9,203.8 511.4,203.2 511.9,202.7 C512.4,202.1 512.9,201.5 513.5,200.9 C514.0,200.4 514.5,199.8 515.0,199.2 C515.5,198.6 516.1,198.1 516.6,197.5 C517.1,196.9 517.6,196.4 518.2,195.8 C518.7,195.2 519.2,194.7 519.8,194.1 C520.3,193.5 520.8,193.0 521.4,192.4 C521.9,191.8 522.4,191.3 523.0,190.7 C523.5,190.2 524.0,189.6 524.6,189.0 C525.1,188.5 525.6,187.9 526.2,187.4 C526.7,186.8 527.3,186.3 527.9,185.7 C528.4,185.2 529.0,184.7 529.5,184.1 C530.1,183.6 530.7,183.1 531.2,182.6 C531.8,182.0 532.4,181.5 532.9,181.0 C533.5,180.4 534.1,179.9 534.6,179.4 C535.2,178.8 535.8,178.3 536.3,177.8 C536.9,177.3 537.5,176.8 538.1,176.2 C538.7,175.7 539.2,175.2 539.8,174.7 C540.4,174.2 541.0,173.7 541.6,173.2 C542.1,172.7 542.7,172.1 543.3,171.6 C543.9,171.1 544.5,170.6 545.1,170.1 C545.6,169.6 546.2,169.1 546.8,168.6 C547.4,168.1 548.0,167.6 548.7,167.2 C549.3,166.7 549.9,166.3 550.5,165.8 C551.2,165.4 551.8,164.9 552.5,164.5 C553.1,164.1 553.8,163.7 554.4,163.2 C555.1,162.8 555.7,162.4 556.3,161.9 C557.0,161.5 557.6,161.1 558.3,160.6 C558.9,160.2 559.6,159.8 560.2,159.3 C560.8,158.9 561.5,158.5 562.1,158.0 C562.8,157.6 563.4,157.1 564.0,156.7 C564.7,156.2 565.3,155.8 565.9,155.3 C566.6,154.9 567.2,154.5 567.8,154.0 C568.5,153.6 569.1,153.1 569.8,152.7 C570.4,152.3 571.1,151.9 571.7,151.5 C572.4,151.1 573.0,150.7 573.7,150.2 C574.4,149.8 575.0,149.4 575.7,149.0 C576.4,148.6 577.0,148.2 577.7,147.8 C578.3,147.4 579.0,147.0 579.7,146.7 C580.4,146.3 581.0,145.9 581.7,145.6 C582.4,145.2 583.1,144.9 583.8,144.6 C584.5,144.2 585.2,143.9 586.0,143.6 C586.7,143.3 587.4,143.0 588.1,142.7 C588.8,142.4 589.5,142.0 590.2,141.7 C590.9,141.4 591.6,141.1 592.4,140.8 C593.1,140.5 593.8,140.3 594.5,140.0 C595.2,139.7 596.0,139.4 596.7,139.2 C597.4,138.9 598.2,138.7 598.9,138.4 C599.6,138.1 600.3,137.9 601.1,137.6 C601.8,137.3 602.5,137.1 603.3,136.8 C604.0,136.5 604.7,136.3 605.4,136.0 C606.2,135.7 606.9,135.5 607.6,135.2 C608.3,134.9 609.1,134.6 609.8,134.4 C610.5,134.1 611.2,133.8 612.0,133.5 C612.7,133.3 613.4,133.0 614.1,132.7 C614.9,132.5 615.6,132.2 616.3,132.0 C617.1,131.7 617.8,131.5 618.6,131.3 C619.3,131.1 620.1,130.9 620.8,130.7 C621.6,130.5 622.3,130.3 623.1,130.1 C623.8,129.9 624.6,129.7 625.3,129.4 C626.0,129.2 626.8,129.0 627.5,128.7 C628.2,128.5 629.0,128.2 629.7,127.9 C630.3,127.6 631.0,127.2 631.7,126.8 C632.3,126.4 632.9,125.9 633.5,125.5 C634.1,125.0 634.7,124.5 635.3,124.0 C635.9,123.5 636.5,123.0 637.1,122.6 C637.8,122.1 638.4,121.7 639.1,121.4 C639.8,121.0 640.5,120.7 641.2,120.5 C641.9,120.2 642.7,120.0 643.4,119.9 C644.2,119.7 645.0,119.6 645.7,119.5 C646.5,119.5 647.3,119.4 648.0,119.5 C648.8,119.5 649.6,119.5 650.3,119.6 C651.1,119.8 651.8,119.9 652.6,120.1 C653.3,120.3 654.0,120.6 654.7,120.9 C655.4,121.2 656.1,121.6 656.7,122.0 C657.3,122.5 657.9,122.9 658.5,123.4 C659.1,123.9 659.7,124.4 660.3,124.9 C660.9,125.4 661.5,125.9 662.2,126.3 C662.8,126.8 663.4,127.2 664.1,127.5 C664.8,127.9 665.5,128.1 666.2,128.4 C666.9,128.7 667.7,128.9 668.4,129.2 C669.1,129.4 669.9,129.7 670.6,129.9 C671.4,130.1 672.1,130.4 672.8,130.6 C673.6,130.9 674.3,131.2 675.0,131.4 C675.8,131.7 676.5,131.9 677.2,132.2 C678.0,132.4 678.7,132.7 679.4,132.9 C680.2,133.2 680.9,133.4 681.6,133.7 C682.4,133.9 683.1,134.2 683.8,134.4 C684.5,134.7 685.3,134.9 686.0,135.2 C686.7,135.5 687.4,135.8 688.1,136.1 C688.9,136.4 689.6,136.7 690.3,137.1 C691.0,137.4 691.7,137.7 692.4,138.1 C693.1,138.4 693.8,138.7 694.5,139.1 C695.2,139.4 695.9,139.7 696.6,140.1 C697.3,140.4 698.0,140.7 698.7,141.1 C699.4,141.4 700.1,141.7 700.8,142.1 C701.5,142.4 702.2,142.7 702.9,143.1 C703.6,143.4 704.3,143.7 705.0,144.1 C705.7,144.4 706.4,144.7 707.1,145.1 C707.7,145.4 708.4,145.8 709.1,146.2 C709.8,146.5 710.5,146.9 711.2,147.3 C711.8,147.7 712.5,148.1 713.2,148.5 C713.8,148.8 714.5,149.2 715.2,149.6 C715.8,150.0 716.5,150.4 717.2,150.8 C717.8,151.2 718.5,151.6 719.2,152.0 C719.8,152.4 720.5,152.8 721.2,153.2 C721.8,153.6 722.5,154.0 723.2,154.4 C723.8,154.8 724.5,155.1 725.2,155.5 C725.8,155.9 726.5,156.3 727.2,156.8 C727.8,157.2 728.5,157.6 729.1,158.0 C729.7,158.5 730.4,158.9 731.0,159.4 C731.6,159.8 732.2,160.3 732.9,160.8 C733.5,161.2 734.1,161.7 734.7,162.2 C735.3,162.6 736.0,163.1 736.6,163.6 C737.2,164.0 737.8,164.5 738.4,165.0 C739.1,165.4 739.7,165.9 740.3,166.4 C740.9,166.8 741.5,167.3 742.2,167.8 C742.8,168.2 743.4,168.7 744.0,169.2 C744.6,169.6 745.3,170.1 745.9,170.6 C746.5,171.0 747.1,171.5 747.7,172.0 C748.3,172.5 748.9,173.0 749.5,173.5 C750.1,174.0 750.7,174.5 751.3,175.0 C751.9,175.5 752.4,176.0 753.0,176.5 C753.6,177.0 754.2,177.5 754.8,178.0 C755.4,178.5 756.0,179.0 756.6,179.5 C757.1,180.0 757.7,180.5 758.3,181.0 C758.9,181.5 759.5,182.1 760.1,182.6 C760.7,183.1 761.3,183.6 761.9,184.1 C762.4,184.6 763.0,185.1 763.6,185.6 C764.2,186.1 764.8,186.6 765.4,187.1 C765.9,187.6 766.5,188.2 767.1,188.7 C767.6,189.2 768.2,189.8 768.7,190.3 C769.3,190.9 769.8,191.4 770.4,192.0 C770.9,192.5 771.4,193.1 772.0,193.7 C772.5,194.2 773.1,194.8 773.6,195.3 C774.1,195.9 774.7,196.4 775.2,197.0 C775.7,197.6 776.3,198.1 776.8,198.7 C777.4,199.2 777.9,199.8 778.4,200.4 C779.0,200.9 779.5,201.5 780.1,202.0 C780.6,202.6 781.1,203.1 781.7,203.7 C782.2,204.3 782.7,204.8 783.3,205.4 C783.8,205.9 784.4,206.5 784.9,207.1 C785.4,207.6 786.0,208.2 786.5,208.7 C787.0,209.3 787.6,209.9 788.1,210.4 C788.6,211.0 789.1,211.6 789.7,212.2 C790.2,212.7 790.7,213.3 791.2,213.9 C791.8,214.4 792.3,215.0 792.8,215.6 C793.3,216.1 793.9,216.7 794.4,217.3 C794.9,217.9 795.4,218.4 796.0,219.0 C796.5,219.6 797.0,220.1 797.5,220.7 C798.0,221.3 798.6,221.9 799.1,222.4 C799.6,223.0 800.1,223.6 800.7,224.1 C801.2,224.7 801.7,225.3 802.2,225.9 C802.8,226.4 803.3,227.0 803.8,227.6 C804.3,228.1 804.9,228.7 805.4,229.3 C805.9,229.9 806.4,230.5 806.9,231.0 C807.4,231.6 807.9,232.2 808.4,232.8 C808.9,233.4 809.4,234.0 809.9,234.6 C810.5,235.2 811.0,235.7 811.5,236.3 C812.0,236.9 812.5,237.5 813.0,238.1 C813.5,238.7 814.0,239.3 814.5,239.9 C815.0,240.5 815.5,241.0 816.0,241.6 C816.5,242.2 817.0,242.8 817.5,243.4 C818.0,244.0 818.5,244.6 819.0,245.2 C819.5,245.7 820.0,246.3 820.5,246.9 C821.1,247.5 821.6,248.1 822.1,248.7 C822.6,249.3 823.1,249.9 823.6,250.5 C824.1,251.1 824.6,251.6 825.1,252.2 C825.6,252.8 826.1,253.4 826.5,254.0 C827.0,254.6 827.5,255.2 828.0,255.8 C828.5,256.4 829.0,257.1 829.5,257.7 C830.0,258.3 830.4,258.9 830.9,259.5 C831.4,260.1 831.9,260.7 832.4,261.3 C832.9,261.9 833.4,262.5 833.8,263.1 C834.3,263.7 834.8,264.3 835.2,265.0 C835.7,265.6 836.1,266.2 836.5,266.9 C837.0,267.5 837.4,268.2 837.8,268.8 C838.2,269.5 838.6,270.1 839.0,270.8 C839.4,271.5 839.8,272.1 840.2,272.8 C840.5,273.5 840.9,274.2 841.2,274.9 C841.5,275.6 841.7,276.3 842.0,277.1 C842.2,277.8 842.4,278.5 842.4,279.3 C842.5,280.0 842.5,280.7 842.4,281.5 C842.3,282.2 842.1,283.0 841.9,283.6 C841.6,284.3 841.3,285.0 840.8,285.6 C840.4,286.1 839.9,286.7 839.3,287.1 C838.7,287.6 838.1,288.1 837.4,288.5 C836.8,288.9 836.1,289.3 835.5,289.6 C834.8,290.0 834.0,290.2 833.3,290.5 C832.6,290.7 831.8,290.9 831.1,291.1 C830.3,291.3 829.6,291.5 828.8,291.7 C828.1,291.9 827.3,292.1 826.6,292.3 C825.8,292.5 825.1,292.7 824.3,292.9 C823.6,293.0 822.8,293.2 822.1,293.3 C821.3,293.5 820.5,293.6 819.8,293.7 C819.0,293.9 818.2,294.0 817.5,294.1 C816.7,294.2 815.9,294.3 815.2,294.5 C814.4,294.6 813.6,294.7 812.9,294.8 C812.1,294.9 811.3,295.0 810.6,295.2 C809.8,295.3 809.0,295.4 808.3,295.5 C807.5,295.6 806.7,295.7 806.0,295.8 C805.2,295.9 804.4,296.0 803.7,296.1 C802.9,296.2 802.1,296.3 801.4,296.4 C800.6,296.5 799.8,296.6 799.1,296.7 C798.3,296.8 797.5,296.9 796.8,297.0 C796.0,297.1 795.2,297.2 794.4,297.3 C793.7,297.4 792.9,297.5 792.1,297.6 C791.4,297.7 790.6,297.8 789.8,297.8 C789.1,297.9 788.3,298.0 787.5,298.1 C786.7,298.2 786.0,298.3 785.2,298.3 C784.4,298.4 783.7,298.5 782.9,298.6 C782.1,298.7 781.3,298.7 780.6,298.8 C779.8,298.9 779.0,299.0 778.3,299.1 C777.5,299.1 776.7,299.2 775.9,299.3 C775.2,299.4 774.4,299.5 773.6,299.5 C772.9,299.6 772.1,299.7 771.3,299.8 C770.5,299.9 769.8,299.9 769.0,300.0 C768.2,300.1 767.5,300.2 766.7,300.3 C765.9,300.3 765.1,300.4 764.4,300.5 C763.6,300.6 762.8,300.7 762.1,300.7 C761.3,300.8 760.5,300.9 759.7,301.0 C759.0,301.0 758.2,301.1 757.4,301.2 C756.7,301.2 755.9,301.3 755.1,301.3 C754.3,301.4 753.6,301.4 752.8,301.4 C752.0,301.5 751.2,301.5 750.5,301.5 C749.7,301.6 748.9,301.6 748.1,301.7 C747.4,301.7 746.6,301.7 745.8,301.8 C745.0,301.8 744.3,301.9 743.5,301.9 C742.7,301.9 741.9,302.0 741.2,302.0 C740.4,302.0 739.6,302.1 738.8,302.1 C738.1,302.2 737.3,302.2 736.5,302.2 C735.8,302.3 735.0,302.3 734.2,302.3 C733.4,302.4 732.7,302.4 731.9,302.5 C731.1,302.5 730.3,302.5 729.6,302.6 C728.8,302.6 728.0,302.6 727.2,302.7 C726.5,302.7 725.7,302.8 724.9,302.8 C724.1,302.8 723.4,302.9 722.6,302.9 C721.8,303.0 721.0,303.0 720.3,303.0 C719.5,303.1 718.7,303.1 717.9,303.1 C717.2,303.2 716.4,303.2 715.6,303.3 C714.8,303.3 714.1,303.3 713.3,303.4 C712.5,303.4 711.7,303.4 711.0,303.5 C710.2,303.5 709.4,303.5 708.6,303.5 C707.9,303.5 707.1,303.6 706.3,303.6 C705.5,303.6 704.8,303.6 704.0,303.6 C703.2,303.6 702.4,303.6 701.7,303.7 C700.9,303.7 700.1,303.7 699.3,303.7 C698.6,303.7 697.8,303.7 697.0,303.7 C696.2,303.7 695.5,303.8 694.7,303.8 C693.9,303.8 693.1,303.8 692.4,303.8 C691.6,303.8 690.8,303.8 690.0,303.8 C689.3,303.9 688.5,303.9 687.7,303.9 C686.9,303.9 686.2,303.9 685.4,303.9 C684.6,303.9 683.8,304.0 683.1,304.0 C682.3,304.0 681.5,304.0 680.7,304.0 C680.0,304.0 679.2,304.0 678.4,304.0 C677.6,304.1 676.9,304.1 676.1,304.1 C675.3,304.1 674.5,304.1 673.8,304.1 C673.0,304.1 672.2,304.2 671.4,304.2 C670.7,304.2 669.9,304.2 669.1,304.2 C668.3,304.2 667.6,304.2 666.8,304.2 C666.0,304.3 665.2,304.3 664.5,304.3 C663.7,304.3 662.9,304.3 662.1,304.3 C661.4,304.3 660.6,304.3 659.8,304.3 C659.0,304.3 658.3,304.3 657.5,304.3 C656.7,304.3 655.9,304.3 655.2,304.2 C654.4,304.2 653.6,304.2 652.8,304.2 C652.1,304.2 651.3,304.2 650.5,304.2 C649.7,304.2 649.0,304.2 648.2,304.2 C647.4,304.1 646.6,304.1 645.9,304.1 C645.1,304.1 644.3,304.0 643.5,304.0 C642.8,303.9 642.0,303.9 641.2,303.9 C640.4,303.8 639.7,303.8 638.9,303.8 C638.1,303.7 637.3,303.7 636.6,303.7 C635.8,303.6 635.0,303.6 634.2,303.5 C633.5,303.5 632.7,303.5 631.9,303.4 C631.1,303.4 630.4,303.4 629.6,303.3 C628.8,303.3 628.0,303.2 627.3,303.2 C626.5,303.2 625.7,303.1 624.9,303.1 C624.2,303.1 623.4,303.0 622.6,303.0 C621.8,303.0 621.1,303.0 620.3,302.9 C619.5,302.9 618.7,302.9 618.0,302.9 C617.2,302.8 616.4,302.8 615.6,302.8 C614.9,302.8 614.1,302.8 613.3,302.7 C612.5,302.7 611.8,302.7 611.0,302.7 C610.2,302.7 609.4,302.6 608.7,302.6 C607.9,302.6 607.1,302.6 606.3,302.6 C605.6,302.5 604.8,302.5 604.0,302.5 C603.2,302.5 602.5,302.5 601.7,302.4 C600.9,302.4 600.1,302.4 599.4,302.4 C598.6,302.3 597.8,302.3 597.0,302.2 C596.3,302.2 595.5,302.2 594.7,302.1 C593.9,302.1 593.2,302.1 592.4,302.0 C591.6,302.0 590.9,301.9 590.1,301.9 C589.3,301.9 588.5,301.8 587.8,301.8 C587.0,301.7 586.2,301.7 585.4,301.7 C584.7,301.6 583.9,301.6 583.1,301.6 C582.3,301.5 581.6,301.5 580.8,301.4 C580.0,301.4 579.2,301.4 578.5,301.3 C577.7,301.3 576.9,301.2 576.1,301.2 C575.4,301.2 574.6,301.1 573.8,301.1 C573.0,301.0 572.3,301.0 571.5,301.0 C570.7,300.9 569.9,300.9 569.2,300.8 C568.4,300.8 567.6,300.8 566.8,300.7 C566.1,300.7 565.3,300.7 564.5,300.6 C563.7,300.6 563.0,300.5 562.2,300.5 C561.4,300.5 560.7,300.4 559.9,300.4 C559.1,300.3 558.3,300.3 557.6,300.3 C556.8,300.2 556.0,300.2 555.2,300.1 C554.5,300.1 553.7,300.0 552.9,300.0 C552.1,299.9 551.4,299.9 550.6,299.8 C549.8,299.7 549.1,299.6 548.3,299.6 C547.5,299.5 546.7,299.4 546.0,299.3 C545.2,299.2 544.4,299.2 543.7,299.1 C542.9,299.0 542.1,298.9 541.3,298.9 C540.6,298.8 539.8,298.7 539.0,298.6 C538.3,298.5 537.5,298.5 536.7,298.4 C535.9,298.3 535.2,298.2 534.4,298.1 C533.6,298.1 532.9,298.0 532.1,297.9 C531.3,297.8 530.5,297.8 529.8,297.7 C529.0,297.6 528.2,297.5 527.5,297.4 C526.7,297.3 525.9,297.2 525.1,297.1 C524.4,297.0 523.6,297.0 522.8,296.9 C522.1,296.8 521.3,296.7 520.5,296.6 C519.8,296.5 519.0,296.4 518.2,296.3 C517.4,296.2 516.7,296.1 515.9,296.0 C515.1,295.9 514.4,295.8 513.6,295.8 C512.8,295.7 512.1,295.6 511.3,295.5 C510.5,295.4 509.7,295.3 509.0,295.2 C508.2,295.1 507.4,295.0 506.7,294.9 C505.9,294.8 505.1,294.7 504.4,294.6 C503.6,294.5 502.8,294.4 502.1,294.3 C501.3,294.2 500.5,294.1 499.8,294.0 C499.0,293.9 498.2,293.8 497.5,293.6 C496.7,293.5 495.9,293.4 495.2,293.3 C494.4,293.2 493.6,293.1 492.9,293.0 C492.1,292.9 491.3,292.8 490.5,292.7 C489.8,292.5 489.0,292.4 488.2,292.3 C487.5,292.2 486.7,292.1 485.9,292.0 C485.2,291.9 484.4,291.8 483.6,291.7 C482.9,291.6 482.1,291.4 481.3,291.3 C480.6,291.2 479.8,291.1 479.0,290.9 C478.3,290.8 477.5,290.7 476.8,290.5 C476.0,290.4 475.2,290.3 474.5,290.1 C473.7,290.0 472.9,289.9 472.2,289.7 C471.4,289.6 470.6,289.5 469.9,289.3 C469.1,289.2 468.4,289.1 467.6,288.9 C466.8,288.8 466.1,288.6 465.3,288.5 C464.6,288.3 463.8,288.1 463.1,287.9 C462.3,287.7 461.6,287.5 460.8,287.2 C460.1,287.0 459.4,286.8 458.6,286.5 C457.9,286.3 457.2,286.0 456.4,285.7 C455.7,285.5 455.0,285.2 454.3,284.9 C453.6,284.6 452.9,284.3 452.2,283.9 C451.5,283.6 450.8,283.2 450.2,282.8 C449.6,282.3 449.1,281.8 448.6,281.3 C448.1,280.7 447.7,280.1 447.4,279.5 C447.1,278.8 446.8,278.1 446.8,277.5Z" fill="none" stroke="#fffaf4" stroke-opacity="0.6" stroke-width="2" filter="url(#b1)"/>
<g stroke="#6e5234" stroke-width="1.3" fill="none">
<line x1="260.3" y1="14" x2="260.3" y2="115.5"/>
<line x1="260.3" y1="157" x2="260.3" y2="303.7"/>
<line x1="94" y1="175" x2="269.3" y2="175"/>
<line x1="319.5" y1="175" x2="433" y2="175"/>
<line x1="648.5" y1="119.5" x2="648.5" y2="194"/>
<line x1="648.5" y1="232" x2="648.5" y2="303.5"/>
</g>
<g font-family="Liberation Sans" font-size="32.5" fill="#161010" stroke="#161010" stroke-width="0.6">
<text x="248.8" y="148.4">L</text>
<text x="277.5" y="188.2">W</text>
<text x="636" y="226" font-size="34">H</text>
</g>
</svg>

<div style="position:absolute;left:2px;top:376px;width:929px;height:91px;background:#f7bf8e"></div>
<div class="h" style="left:1px;top:375px;width:931px;height:2px"></div>
<div class="h" style="left:1px;top:465.6px;width:931px;height:2.1px"></div>
<div class="h" style="left:1px;top:522.4px;width:931px"></div>
<div class="h" style="left:1px;top:579.2px;width:931px"></div>
<div class="h" style="left:1px;top:635.9px;width:931px"></div>
<div class="h" style="left:1px;top:692.6px;width:931px"></div>
<div class="h" style="left:1px;top:749.3px;width:931px"></div>
<div class="h" style="left:1px;top:806.0px;width:931px"></div>
<div class="h" style="left:1px;top:862.8px;width:931px"></div>
<div class="h" style="left:1px;top:919.7px;width:931px;height:1.3px"></div>
<div class="v" style="left:1px;top:375px;height:546px;width:1.4px"></div>
<div class="v" style="left:930.8px;top:375px;height:546px;width:1.3px"></div>
<div class="v" style="left:201.9px;top:466px;height:398.8px"></div>
<div class="v" style="left:561px;top:466px;height:398.8px;width:2px"></div>
<div class="t" style="left:2px;width:929px;top:401.25px;line-height:40px;font-size:34px;color:#1c0c08;-webkit-text-stroke:0.7px #1c0c08;letter-spacing:0.04px;padding-left:1px">ONEFENG MASTECTOMY PROSTHESIS  SIZE CHART</div>
<div class="t" style="left:1.7px;width:201.2px;top:480.95px">Weight/piece</div>
<div class="t" style="left:202.9px;width:358.6px;top:480.95px">L-W-H(inch/cm)</div>
<div class="t" style="left:561.5px;width:369.5px;top:480.95px">Bra Match</div>
<div class="t" style="left:1.7px;width:201.2px;top:537.80px">0.33 lbs/150g</div>
<div class="t" style="left:202.9px;width:358.6px;top:523.80px">5.1*4.4*1.4<br>13*11.2*3.5</div>
<div class="t" style="left:561.5px;width:369.5px;top:537.80px">34A</div>
<div class="t" style="left:1.7px;width:201.2px;top:594.55px">0.44 lbs/200g</div>
<div class="t" style="left:202.9px;width:358.6px;top:580.55px">5.3*4.7*1.8<br>13.5*12*4.5</div>
<div class="t" style="left:561.5px;width:369.5px;top:594.55px">34B</div>
<div class="t" style="left:1.7px;width:201.2px;top:651.25px">0.66 lbs/300g</div>
<div class="t" style="left:202.9px;width:358.6px;top:637.25px">6.1*5.2*2.1<br>15.5*13.2*5.3</div>
<div class="t" style="left:561.5px;width:369.5px;top:651.25px">36B/36C/38B</div>
<div class="t" style="left:1.7px;width:201.2px;top:707.95px">0.88 lbs/400g</div>
<div class="t" style="left:202.9px;width:358.6px;top:693.95px">6.3*5.6*2.3<br>16*14.2*5.9</div>
<div class="t" style="left:561.5px;width:369.5px;top:707.95px">40C/42B/42C</div>
<div class="t" style="left:1.7px;width:201.2px;top:764.65px">1.1 lbs/500g</div>
<div class="t" style="left:202.9px;width:358.6px;top:750.65px">6.9*6.1*2.5<br>17.5*15.5*6.4</div>
<div class="t" style="left:561.5px;width:369.5px;top:764.65px">42C/44B/44C</div>
<div class="t" style="left:1.7px;width:201.2px;top:821.40px">1.3 lbs/600g</div>
<div class="t" style="left:202.9px;width:358.6px;top:807.40px">7.1*6.3*2.8<br>18*16*7</div>
<div class="t" style="left:561.5px;width:369.5px;top:821.40px">44C/46B/46C</div>
<div class="t" style="left:2.7px;width:929.3px;top:878.65px;font-size:20.8px;color:#a8161f;-webkit-text-stroke:0.25px #a8161f">It would has 0.5-1cm difference with actual size because of manual measurement</div>
</body></html>
